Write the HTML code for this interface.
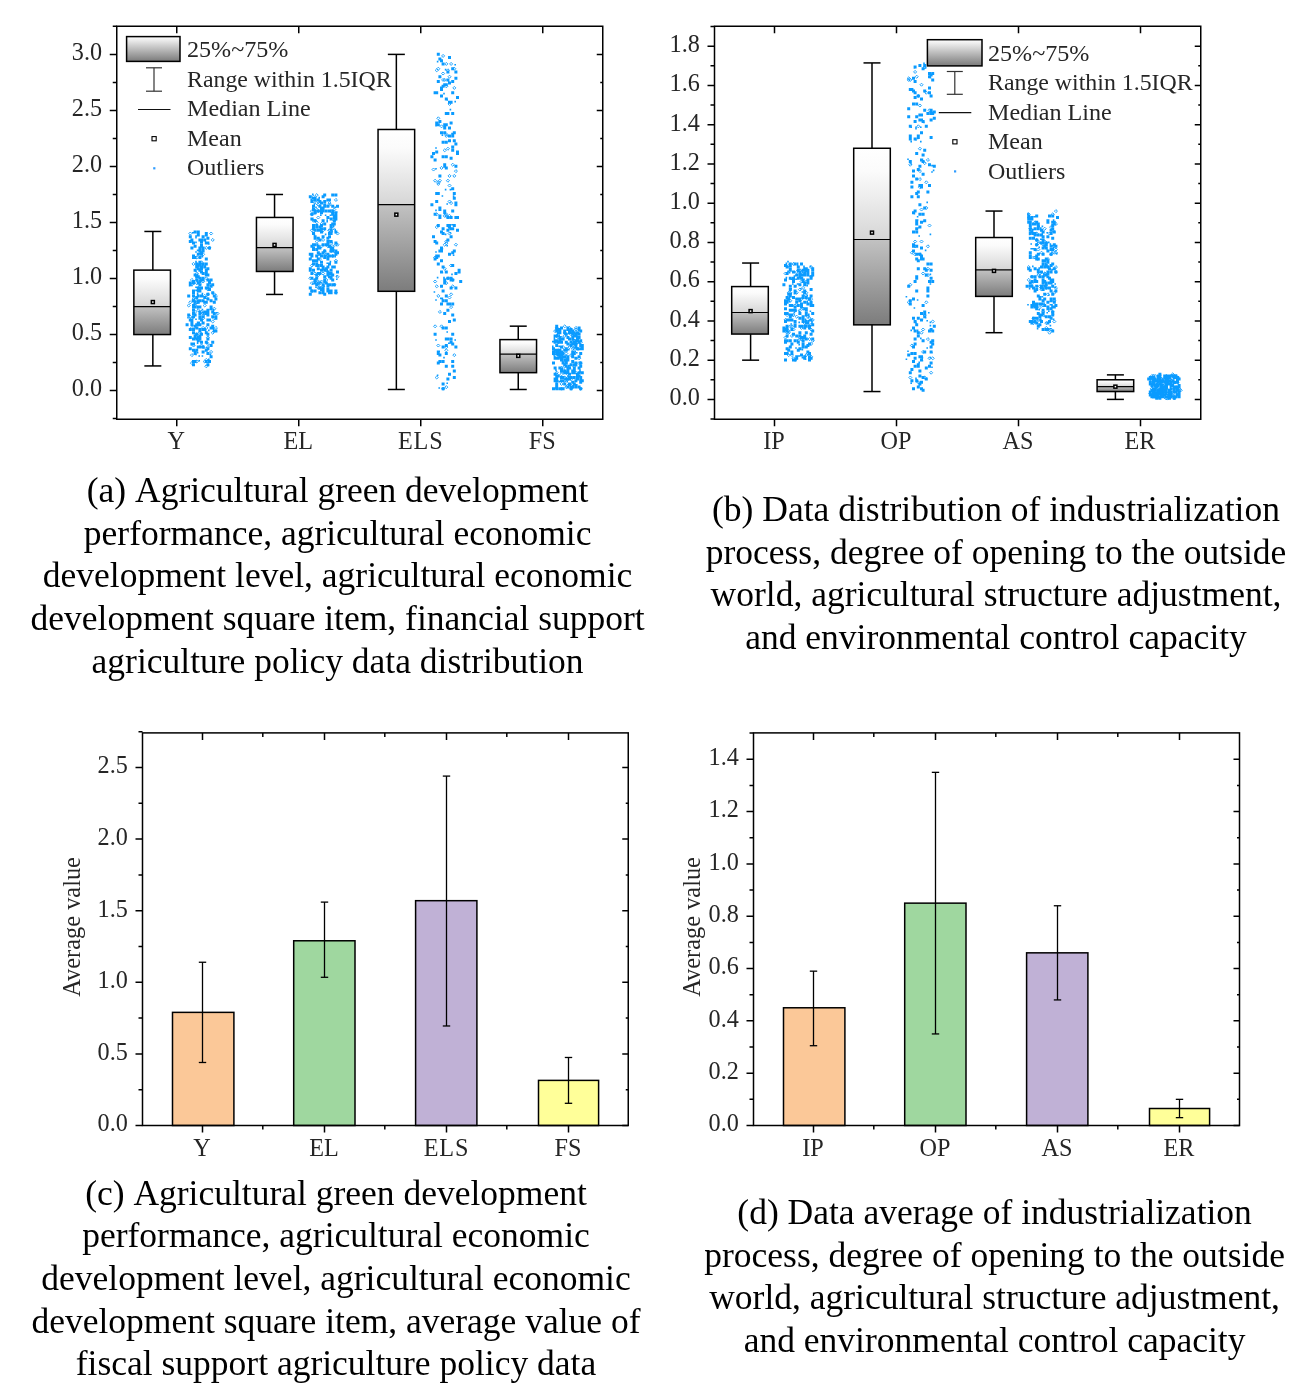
<!DOCTYPE html>
<html lang="en"><head><meta charset="utf-8"><title>Figure</title>
<style>html,body{margin:0;padding:0;background:#fff}body{width:1314px;height:1399px;overflow:hidden}svg{display:block}text{font-family:'Liberation Serif', 'DejaVu Serif', serif}</style></head><body>
<svg width="1314" height="1399" viewBox="0 0 1314 1399">
<defs><linearGradient id="g1" x1="0" y1="0" x2="0" y2="1"><stop offset="0" stop-color="#ffffff"/><stop offset="1" stop-color="#7a7a7a"/></linearGradient><linearGradient id="gu" x1="0" y1="0" x2="0" y2="1"><stop offset="0" stop-color="#ffffff"/><stop offset="0.25" stop-color="#fbfbfb"/><stop offset="1" stop-color="#d6d6d6"/></linearGradient><linearGradient id="gl" x1="0" y1="0" x2="0" y2="1"><stop offset="0" stop-color="#c2c2c2"/><stop offset="1" stop-color="#7c7c7c"/></linearGradient></defs>
<rect width="1314" height="1399" fill="#fff"/>
<g id="chart-a">
<g stroke="#000" stroke-width="1.5" fill="none">
<rect x="116.75" y="26.25" width="486" height="393"/>
<path d="M109.75 390.6H116.75M596.75 390.6H602.75M109.75 334.57H116.75M596.75 334.57H602.75M109.75 278.53H116.75M596.75 278.53H602.75M109.75 222.5H116.75M596.75 222.5H602.75M109.75 166.46H116.75M596.75 166.46H602.75M109.75 110.43H116.75M596.75 110.43H602.75M109.75 54.39H116.75M596.75 54.39H602.75M112.75 418.62H116.75M112.75 362.58H116.75M600.25 362.58H602.75M112.75 306.55H116.75M600.25 306.55H602.75M112.75 250.51H116.75M600.25 250.51H602.75M112.75 194.48H116.75M600.25 194.48H602.75M112.75 138.44H116.75M600.25 138.44H602.75M112.75 82.41H116.75M600.25 82.41H602.75M112.75 26.37H116.75M176.75 419.25V426.25M176.75 26.25V33.25M298.75 419.25V426.25M298.75 26.25V33.25M420.75 419.25V426.25M420.75 26.25V33.25M542.75 419.25V426.25M542.75 26.25V33.25"/>
</g>
<text x="102.05" y="396.4" font-size="24.2" text-anchor="end" fill="#262626">0.0</text>
<text x="102.05" y="340.37" font-size="24.2" text-anchor="end" fill="#262626">0.5</text>
<text x="102.05" y="284.33" font-size="24.2" text-anchor="end" fill="#262626">1.0</text>
<text x="102.05" y="228.3" font-size="24.2" text-anchor="end" fill="#262626">1.5</text>
<text x="102.05" y="172.26" font-size="24.2" text-anchor="end" fill="#262626">2.0</text>
<text x="102.05" y="116.23" font-size="24.2" text-anchor="end" fill="#262626">2.5</text>
<text x="102.05" y="60.19" font-size="24.2" text-anchor="end" fill="#262626">3.0</text>
<text x="176.25" y="448.8" font-size="24.2" text-anchor="middle" fill="#262626">Y</text>
<text x="298.25" y="448.8" font-size="24.2" text-anchor="middle" fill="#262626">EL</text>
<text x="420.75" y="448.8" font-size="24.2" text-anchor="middle" fill="#262626" letter-spacing="0.9">ELS</text>
<text x="542.25" y="448.8" font-size="24.2" text-anchor="middle" fill="#262626">FS</text>
<line x1="152.85" y1="231.46" x2="152.85" y2="270.12" stroke="#000" stroke-width="1.5"/>
<line x1="152.85" y1="334.57" x2="152.85" y2="365.94" stroke="#000" stroke-width="1.5"/>
<line x1="144.35" y1="231.46" x2="161.35" y2="231.46" stroke="#000" stroke-width="1.5"/>
<line x1="144.35" y1="365.94" x2="161.35" y2="365.94" stroke="#000" stroke-width="1.5"/>
<rect x="133.85" y="270.12" width="36.6" height="36.42" fill="url(#gu)"/>
<rect x="133.85" y="306.55" width="36.6" height="28.02" fill="url(#gl)"/>
<rect x="133.85" y="270.12" width="36.6" height="64.44" fill="none" stroke="#000" stroke-width="1.5"/>
<line x1="133.85" y1="306.55" x2="170.45" y2="306.55" stroke="#000" stroke-width="1.2"/>
<rect x="151.35" y="300.56" width="3" height="3" fill="#fff" stroke="#000" stroke-width="1.5"/>
<path d="M208 243.2h1.6v1.6h-1.6zM192 360h3v3h-3zM193.6 300.8h3v3h-3zM201.6 292.8h1.6v1.6h-1.6zM193.6 324.8h3v3h-3zM206.4 283.2h3v3h-3zM192 331.2h3v3h-3zM198.4 337.6h3v3h-3zM188.8 328h3v3h-3zM193.6 273.6h3v3h-3zM192 294.4h3v3h-3zM192 348.8h3v3h-3zM206.4 310.4h3v3h-3zM192 312h3v3h-3zM195.2 265.6h3v3h-3zM190.4 318.4h3v3h-3zM204.8 233.6h3v3h-3zM212.8 329.6h3v3h-3zM198.4 321.6h1.6v1.6h-1.6zM196.8 345.6h3v3h-3zM203.2 328h3v3h-3zM190.4 342.4h3v3h-3zM200 294.4h3v3h-3zM195.2 353.6h1.6v1.6h-1.6zM195.2 318.4h1.6v1.6h-1.6zM192 281.6h3v3h-3zM196.8 267.2h3v3h-3zM195.2 235.2h1.6v1.6h-1.6zM201.6 262.4h3v3h-3zM214.4 315.2h1.6v1.6h-1.6zM192 256h3v3h-3zM196.8 326.4h1.6v1.6h-1.6zM196.8 299.2h1.6v1.6h-1.6zM198.4 345.6h3v3h-3zM206.4 332.8h3v3h-3zM206.4 337.6h3v3h-3zM195.2 241.6h1.6v1.6h-1.6zM201.6 315.2h3v3h-3zM193.6 360h3v3h-3zM214.4 297.6h3v3h-3zM200 283.2h1.6v1.6h-1.6zM193.6 350.4h3v3h-3zM204.8 233.6h3v3h-3zM206.4 278.4h3v3h-3zM201.6 299.2h3v3h-3zM192 280h3v3h-3zM211.2 315.2h3v3h-3zM204.8 348.8h3v3h-3zM198.4 286.4h1.6v1.6h-1.6zM200 244.8h1.6v1.6h-1.6zM193.6 256h3v3h-3zM192 299.2h3v3h-3zM209.6 355.2h3v3h-3zM200 332.8h3v3h-3zM211.2 310.4h3v3h-3zM192 291.2h3v3h-3zM209.6 299.2h1.6v1.6h-1.6zM201.6 345.6h3v3h-3zM198.4 323.2h1.6v1.6h-1.6zM188.8 240h3v3h-3zM214.4 315.2h1.6v1.6h-1.6zM214.4 316.8h3v3h-3zM198.4 312h3v3h-3zM203.2 315.2h1.6v1.6h-1.6zM200 251.2h3v3h-3zM196.8 286.4h3v3h-3zM206.4 318.4h3v3h-3zM192 232h1.6v1.6h-1.6zM209.6 326.4h3v3h-3zM193.6 244.8h3v3h-3zM204.8 300.8h3v3h-3zM203.2 265.6h3v3h-3zM212.8 328h1.6v1.6h-1.6zM206.4 313.6h3v3h-3zM192 308.8h3v3h-3zM195.2 348.8h3v3h-3zM187.2 313.6h3v3h-3zM196.8 321.6h3v3h-3zM206.4 342.4h1.6v1.6h-1.6zM200 240h1.6v1.6h-1.6zM195.2 270.4h1.6v1.6h-1.6zM204.8 241.6h3v3h-3zM196.8 289.6h3v3h-3zM196.8 264h3v3h-3zM208 281.6h3v3h-3zM200 267.2h3v3h-3zM190.4 238.4h3v3h-3zM206.4 241.6h1.6v1.6h-1.6zM206.4 320h1.6v1.6h-1.6zM198.4 280h3v3h-3zM192 360h1.6v1.6h-1.6zM198.4 334.4h3v3h-3zM193.6 352h3v3h-3zM195.2 260.8h1.6v1.6h-1.6zM212.8 294.4h3v3h-3zM200 318.4h3v3h-3zM192 337.6h3v3h-3zM203.2 265.6h3v3h-3zM204.8 340.8h3v3h-3zM204.8 270.4h3v3h-3zM200 340.8h3v3h-3zM190.4 342.4h3v3h-3zM206.4 292.8h3v3h-3zM196.8 340.8h1.6v1.6h-1.6zM195.2 337.6h3v3h-3zM196.8 302.4h1.6v1.6h-1.6zM209.6 305.6h3v3h-3zM211.2 324.8h3v3h-3zM192 241.6h3v3h-3zM188.8 281.6h3v3h-3zM188.8 336h3v3h-3zM196.8 275.2h3v3h-3zM212.8 312h3v3h-3zM193.6 313.6h3v3h-3zM196.8 323.2h3v3h-3zM192 254.4h3v3h-3zM208 318.4h3v3h-3zM192 308.8h3v3h-3zM200 252.8h3v3h-3zM204.8 310.4h1.6v1.6h-1.6zM212.8 300.8h3v3h-3zM203.2 310.4h3v3h-3zM198.4 246.4h3v3h-3zM195.2 323.2h3v3h-3zM206.4 286.4h3v3h-3zM196.8 230.4h3v3h-3zM188.8 283.2h3v3h-3zM198.4 256h3v3h-3zM204.8 257.6h3v3h-3zM195.2 289.6h1.6v1.6h-1.6zM201.6 256h1.6v1.6h-1.6zM212.8 308.8h1.6v1.6h-1.6zM206.4 267.2h3v3h-3zM203.2 300.8h3v3h-3zM196.8 264h1.6v1.6h-1.6zM206.4 363.2h3v3h-3zM201.6 355.2h1.6v1.6h-1.6zM201.6 278.4h3v3h-3zM209.6 344h3v3h-3zM193.6 334.4h3v3h-3zM193.6 336h3v3h-3zM206.4 297.6h3v3h-3zM188.8 347.2h3v3h-3zM208 288h3v3h-3zM206.4 352h3v3h-3zM196.8 249.6h1.6v1.6h-1.6zM196.8 336h3v3h-3zM198.4 249.6h3v3h-3zM195.2 332.8h3v3h-3zM204.8 312h3v3h-3zM196.8 281.6h3v3h-3zM192 304h3v3h-3zM196.8 321.6h3v3h-3zM185.6 323.2h3v3h-3zM209.6 278.4h3v3h-3zM204.8 273.6h3v3h-3zM198.4 334.4h3v3h-3zM188.8 235.2h3v3h-3zM204.8 286.4h3v3h-3zM192 328h3v3h-3zM211.2 326.4h3v3h-3zM193.6 268.8h3v3h-3zM214.4 315.2h3v3h-3zM206.4 320h1.6v1.6h-1.6zM198.4 260.8h3v3h-3zM200 238.4h3v3h-3zM195.2 251.2h1.6v1.6h-1.6zM198.4 262.4h3v3h-3zM206.4 308.8h3v3h-3zM198.4 283.2h3v3h-3zM195.2 296h3v3h-3zM192 305.6h3v3h-3zM198.4 334.4h3v3h-3zM192 281.6h3v3h-3zM201.6 249.6h3v3h-3zM193.6 230.4h3v3h-3zM208 360h3v3h-3zM200 251.2h3v3h-3zM195.2 262.4h3v3h-3zM190.4 246.4h1.6v1.6h-1.6zM200 244.8h3v3h-3zM206.4 236.8h3v3h-3zM195.2 326.4h3v3h-3zM204.8 340.8h1.6v1.6h-1.6zM196.8 342.4h1.6v1.6h-1.6zM198.4 360h1.6v1.6h-1.6zM201.6 246.4h3v3h-3zM208 280h3v3h-3zM211.2 283.2h3v3h-3zM190.4 323.2h3v3h-3zM196.8 264h3v3h-3zM193.6 305.6h3v3h-3zM187.2 294.4h3v3h-3zM193.6 350.4h3v3h-3zM196.8 294.4h3v3h-3zM192 289.6h3v3h-3zM196.8 252.8h1.6v1.6h-1.6zM209.6 284.8h3v3h-3zM196.8 307.2h1.6v1.6h-1.6zM196.8 339.2h3v3h-3zM196.8 352h1.6v1.6h-1.6zM190.4 321.6h3v3h-3zM198.4 288h3v3h-3zM206.4 273.6h3v3h-3zM204.8 360h3v3h-3zM206.4 273.6h3v3h-3zM192 315.2h3v3h-3zM198.4 323.2h3v3h-3zM198.4 299.2h3v3h-3zM214.4 329.6h3v3h-3zM211.2 340.8h3v3h-3zM206.4 347.2h3v3h-3zM193.6 302.4h1.6v1.6h-1.6zM200 240h3v3h-3zM192 337.6h3v3h-3zM208 246.4h3v3h-3zM198.4 328h3v3h-3zM195.2 275.2h3v3h-3zM206.4 323.2h3v3h-3zM216 312h1.6v1.6h-1.6zM198.4 329.6h3v3h-3zM198.4 315.2h3v3h-3zM201.6 276.8h3v3h-3zM196.8 321.6h1.6v1.6h-1.6zM198.4 310.4h3v3h-3zM204.8 262.4h3v3h-3zM204.8 241.6h1.6v1.6h-1.6zM196.8 233.6h3v3h-3zM203.2 238.4h3v3h-3zM192 363.2h3v3h-3zM204.8 329.6h1.6v1.6h-1.6zM208 329.6h1.6v1.6h-1.6zM201.6 350.4h3v3h-3zM200 270.4h3v3h-3zM206.4 241.6h3v3h-3zM200 286.4h3v3h-3zM211.2 291.2h3v3h-3zM201.6 328h3v3h-3zM198.4 316.8h3v3h-3zM196.8 305.6h3v3h-3zM198.4 329.6h3v3h-3zM198.4 238.4h3v3h-3zM200 243.2h3v3h-3zM195.2 278.4h3v3h-3zM201.6 308.8h1.6v1.6h-1.6zM195.2 236.8h1.6v1.6h-1.6zM195.2 286.4h1.6v1.6h-1.6zM206.4 342.4h1.6v1.6h-1.6zM187.2 316.8h1.6v1.6h-1.6zM204.8 331.2h3v3h-3zM198.4 289.6h3v3h-3zM190.4 246.4h3v3h-3zM192 342.4h3v3h-3zM198.4 305.6h3v3h-3zM196.8 292.8h1.6v1.6h-1.6zM198.4 355.2h1.6v1.6h-1.6zM196.8 252.8h3v3h-3zM198.4 276.8h3v3h-3zM196.8 273.6h1.6v1.6h-1.6zM209.6 307.2h3v3h-3zM193.6 352h1.6v1.6h-1.6zM201.6 235.2h3v3h-3zM209.6 353.6h1.6v1.6h-1.6zM200 265.6h3v3h-3zM198.4 268.8h3v3h-3zM204.8 268.8h3v3h-3zM201.6 312h1.6v1.6h-1.6zM200 278.4h3v3h-3zM188.8 318.4h3v3h-3zM201.6 272h3v3h-3zM201.6 321.6h3v3h-3zM196.8 300.8h3v3h-3zM198.4 256h3v3h-3zM203.2 296h3v3h-3zM204.8 232h3v3h-3zM208 358.4h1.6v1.6h-1.6zM209.6 299.2h3v3h-3zM188.8 284.8h1.6v1.6h-1.6zM198.4 252.8h1.6v1.6h-1.6z" fill="#0a9bff"/>
<path d="M195.12 297.6l1.52 1.52l-1.52 1.52l-1.52-1.52zM199.92 262.4l1.52 1.52l-1.52 1.52l-1.52-1.52zM196.72 360l1.52 1.52l-1.52 1.52l-1.52-1.52zM214.32 307.2l1.52 1.52l-1.52 1.52l-1.52-1.52zM206.32 364.8l1.52 1.52l-1.52 1.52l-1.52-1.52zM217.52 312l1.52 1.52l-1.52 1.52l-1.52-1.52zM198.32 286.4l1.52 1.52l-1.52 1.52l-1.52-1.52zM191.92 361.6l1.52 1.52l-1.52 1.52l-1.52-1.52zM190.32 232l1.52 1.52l-1.52 1.52l-1.52-1.52zM206.32 326.4l1.52 1.52l-1.52 1.52l-1.52-1.52zM207.92 292.8l1.52 1.52l-1.52 1.52l-1.52-1.52zM214.32 316.8l1.52 1.52l-1.52 1.52l-1.52-1.52zM212.72 238.4l1.52 1.52l-1.52 1.52l-1.52-1.52zM199.92 265.6l1.52 1.52l-1.52 1.52l-1.52-1.52zM207.92 345.6l1.52 1.52l-1.52 1.52l-1.52-1.52zM211.12 232l1.52 1.52l-1.52 1.52l-1.52-1.52zM196.72 256l1.52 1.52l-1.52 1.52l-1.52-1.52zM204.72 304l1.52 1.52l-1.52 1.52l-1.52-1.52zM191.92 283.2l1.52 1.52l-1.52 1.52l-1.52-1.52zM196.72 332.8l1.52 1.52l-1.52 1.52l-1.52-1.52zM191.92 353.6l1.52 1.52l-1.52 1.52l-1.52-1.52zM203.12 280l1.52 1.52l-1.52 1.52l-1.52-1.52zM207.92 342.4l1.52 1.52l-1.52 1.52l-1.52-1.52zM196.72 300.8l1.52 1.52l-1.52 1.52l-1.52-1.52zM212.72 320l1.52 1.52l-1.52 1.52l-1.52-1.52zM206.32 358.4l1.52 1.52l-1.52 1.52l-1.52-1.52zM207.92 286.4l1.52 1.52l-1.52 1.52l-1.52-1.52zM215.92 294.4l1.52 1.52l-1.52 1.52l-1.52-1.52zM196.72 281.6l1.52 1.52l-1.52 1.52l-1.52-1.52zM204.72 294.4l1.52 1.52l-1.52 1.52l-1.52-1.52zM193.52 262.4l1.52 1.52l-1.52 1.52l-1.52-1.52zM207.92 288l1.52 1.52l-1.52 1.52l-1.52-1.52zM206.32 276.8l1.52 1.52l-1.52 1.52l-1.52-1.52zM193.52 299.2l1.52 1.52l-1.52 1.52l-1.52-1.52zM195.12 302.4l1.52 1.52l-1.52 1.52l-1.52-1.52zM195.12 310.4l1.52 1.52l-1.52 1.52l-1.52-1.52zM191.92 316.8l1.52 1.52l-1.52 1.52l-1.52-1.52zM212.72 331.2l1.52 1.52l-1.52 1.52l-1.52-1.52zM203.12 345.6l1.52 1.52l-1.52 1.52l-1.52-1.52zM211.12 350.4l1.52 1.52l-1.52 1.52l-1.52-1.52zM214.32 292.8l1.52 1.52l-1.52 1.52l-1.52-1.52zM206.32 347.2l1.52 1.52l-1.52 1.52l-1.52-1.52zM190.32 300.8l1.52 1.52l-1.52 1.52l-1.52-1.52zM203.12 252.8l1.52 1.52l-1.52 1.52l-1.52-1.52zM207.92 360l1.52 1.52l-1.52 1.52l-1.52-1.52zM198.32 308.8l1.52 1.52l-1.52 1.52l-1.52-1.52zM191.92 326.4l1.52 1.52l-1.52 1.52l-1.52-1.52zM204.72 312l1.52 1.52l-1.52 1.52l-1.52-1.52zM203.12 316.8l1.52 1.52l-1.52 1.52l-1.52-1.52zM215.92 326.4l1.52 1.52l-1.52 1.52l-1.52-1.52zM201.52 260.8l1.52 1.52l-1.52 1.52l-1.52-1.52zM206.32 246.4l1.52 1.52l-1.52 1.52l-1.52-1.52zM195.12 304l1.52 1.52l-1.52 1.52l-1.52-1.52zM196.72 272l1.52 1.52l-1.52 1.52l-1.52-1.52zM207.92 336l1.52 1.52l-1.52 1.52l-1.52-1.52zM190.32 315.2l1.52 1.52l-1.52 1.52l-1.52-1.52zM201.52 310.4l1.52 1.52l-1.52 1.52l-1.52-1.52zM206.32 296l1.52 1.52l-1.52 1.52l-1.52-1.52zM193.52 344l1.52 1.52l-1.52 1.52l-1.52-1.52zM209.52 246.4l1.52 1.52l-1.52 1.52l-1.52-1.52zM204.72 360l1.52 1.52l-1.52 1.52l-1.52-1.52zM193.52 360l1.52 1.52l-1.52 1.52l-1.52-1.52zM191.92 278.4l1.52 1.52l-1.52 1.52l-1.52-1.52zM199.92 331.2l1.52 1.52l-1.52 1.52l-1.52-1.52zM188.72 304l1.52 1.52l-1.52 1.52l-1.52-1.52zM201.52 344l1.52 1.52l-1.52 1.52l-1.52-1.52zM203.12 326.4l1.52 1.52l-1.52 1.52l-1.52-1.52zM204.72 312l1.52 1.52l-1.52 1.52l-1.52-1.52zM193.52 297.6l1.52 1.52l-1.52 1.52l-1.52-1.52zM203.12 312l1.52 1.52l-1.52 1.52l-1.52-1.52zM196.72 275.2l1.52 1.52l-1.52 1.52l-1.52-1.52z" fill="none" stroke="#0a9bff" stroke-width="0.9"/>
<line x1="274.55" y1="194.48" x2="274.55" y2="217.45" stroke="#000" stroke-width="1.5"/>
<line x1="274.55" y1="271.47" x2="274.55" y2="294.44" stroke="#000" stroke-width="1.5"/>
<line x1="266.05" y1="194.48" x2="283.05" y2="194.48" stroke="#000" stroke-width="1.5"/>
<line x1="266.05" y1="294.44" x2="283.05" y2="294.44" stroke="#000" stroke-width="1.5"/>
<rect x="256.45" y="217.45" width="36.6" height="30.26" fill="url(#gu)"/>
<rect x="256.45" y="247.71" width="36.6" height="23.76" fill="url(#gl)"/>
<rect x="256.45" y="217.45" width="36.6" height="54.02" fill="none" stroke="#000" stroke-width="1.5"/>
<line x1="256.45" y1="247.71" x2="293.05" y2="247.71" stroke="#000" stroke-width="1.2"/>
<rect x="273.05" y="243.41" width="3" height="3" fill="#fff" stroke="#000" stroke-width="1.5"/>
<path d="M312 248h3v3h-3zM318.4 200h3v3h-3zM312 204.8h3v3h-3zM328 254.4h3v3h-3zM320 209.6h3v3h-3zM318.4 252.8h3v3h-3zM318.4 291.2h3v3h-3zM312 262.4h3v3h-3zM329.6 228.8h3v3h-3zM321.6 195.2h3v3h-3zM320 214.4h1.6v1.6h-1.6zM313.6 203.2h1.6v1.6h-1.6zM318.4 196.8h1.6v1.6h-1.6zM313.6 198.4h3v3h-3zM331.2 193.6h3v3h-3zM310.4 217.6h3v3h-3zM316.8 243.2h1.6v1.6h-1.6zM315.2 276.8h3v3h-3zM328 244.8h3v3h-3zM326.4 220.8h1.6v1.6h-1.6zM320 206.4h3v3h-3zM318.4 272h3v3h-3zM308.8 267.2h1.6v1.6h-1.6zM318.4 246.4h3v3h-3zM334.4 228.8h1.6v1.6h-1.6zM312 246.4h3v3h-3zM315.2 262.4h3v3h-3zM312 225.6h3v3h-3zM329.6 224h1.6v1.6h-1.6zM308.8 286.4h3v3h-3zM326.4 236.8h3v3h-3zM334.4 217.6h3v3h-3zM313.6 228.8h3v3h-3zM313.6 243.2h3v3h-3zM315.2 254.4h3v3h-3zM313.6 278.4h3v3h-3zM326.4 268.8h1.6v1.6h-1.6zM328 289.6h3v3h-3zM321.6 265.6h3v3h-3zM315.2 224h3v3h-3zM329.6 217.6h3v3h-3zM312 283.2h1.6v1.6h-1.6zM329.6 276.8h3v3h-3zM320 254.4h3v3h-3zM329.6 232h3v3h-3zM334.4 212.8h3v3h-3zM316.8 228.8h3v3h-3zM308.8 195.2h3v3h-3zM316.8 209.6h3v3h-3zM331.2 211.2h3v3h-3zM323.2 203.2h3v3h-3zM331.2 246.4h3v3h-3zM326.4 256h3v3h-3zM328 235.2h3v3h-3zM331.2 284.8h1.6v1.6h-1.6zM320 288h3v3h-3zM331.2 254.4h3v3h-3zM310.4 200h3v3h-3zM312 193.6h1.6v1.6h-1.6zM334.4 289.6h3v3h-3zM329.6 240h3v3h-3zM315.2 248h3v3h-3zM334.4 291.2h3v3h-3zM308.8 252.8h3v3h-3zM331.2 241.6h1.6v1.6h-1.6zM326.4 241.6h3v3h-3zM318.4 228.8h3v3h-3zM334.4 206.4h1.6v1.6h-1.6zM312 217.6h1.6v1.6h-1.6zM323.2 256h3v3h-3zM316.8 251.2h3v3h-3zM323.2 292.8h3v3h-3zM313.6 209.6h3v3h-3zM334.4 230.4h3v3h-3zM318.4 225.6h3v3h-3zM326.4 257.6h3v3h-3zM334.4 217.6h1.6v1.6h-1.6zM326.4 216h1.6v1.6h-1.6zM334.4 251.2h3v3h-3zM321.6 286.4h3v3h-3zM315.2 264h3v3h-3zM326.4 265.6h3v3h-3zM316.8 264h3v3h-3zM331.2 283.2h3v3h-3zM320 224h3v3h-3zM316.8 198.4h3v3h-3zM318.4 204.8h3v3h-3zM318.4 286.4h3v3h-3zM323.2 284.8h1.6v1.6h-1.6zM332.8 219.2h3v3h-3zM308.8 257.6h3v3h-3zM331.2 248h3v3h-3zM331.2 283.2h3v3h-3zM329.6 214.4h1.6v1.6h-1.6zM316.8 257.6h3v3h-3zM336 204.8h3v3h-3zM334.4 252.8h3v3h-3zM326.4 216h3v3h-3zM329.6 268.8h3v3h-3zM324.8 209.6h3v3h-3zM320 201.6h3v3h-3zM332.8 283.2h3v3h-3zM313.6 259.2h3v3h-3zM313.6 289.6h3v3h-3zM336 275.2h1.6v1.6h-1.6zM316.8 236.8h3v3h-3zM326.4 289.6h3v3h-3zM310.4 212.8h3v3h-3zM334.4 241.6h3v3h-3zM329.6 260.8h1.6v1.6h-1.6zM328 291.2h3v3h-3zM321.6 209.6h3v3h-3zM313.6 212.8h1.6v1.6h-1.6zM320 260.8h3v3h-3zM326.4 284.8h3v3h-3zM316.8 246.4h3v3h-3zM328 209.6h3v3h-3zM323.2 254.4h3v3h-3zM334.4 291.2h3v3h-3zM313.6 219.2h3v3h-3zM326.4 288h3v3h-3zM312 196.8h3v3h-3zM313.6 236.8h3v3h-3zM328 283.2h3v3h-3zM310.4 276.8h3v3h-3zM332.8 222.4h3v3h-3zM312 219.2h1.6v1.6h-1.6zM321.6 219.2h3v3h-3zM334.4 260.8h3v3h-3zM328 262.4h3v3h-3zM320 281.6h1.6v1.6h-1.6zM316.8 267.2h3v3h-3zM332.8 265.6h3v3h-3zM328 232h3v3h-3zM312 206.4h1.6v1.6h-1.6zM321.6 291.2h3v3h-3zM312 224h3v3h-3zM315.2 273.6h3v3h-3zM329.6 291.2h3v3h-3zM310.4 272h3v3h-3zM310.4 289.6h3v3h-3zM321.6 267.2h3v3h-3zM320 211.2h3v3h-3zM312 208h3v3h-3zM328 240h1.6v1.6h-1.6zM320 209.6h3v3h-3zM336 278.4h1.6v1.6h-1.6zM326.4 270.4h3v3h-3zM323.2 278.4h3v3h-3zM334.4 256h1.6v1.6h-1.6zM315.2 225.6h3v3h-3zM310.4 244.8h3v3h-3zM313.6 211.2h3v3h-3zM313.6 281.6h3v3h-3zM313.6 233.6h1.6v1.6h-1.6zM328 272h3v3h-3zM320 238.4h1.6v1.6h-1.6zM326.4 262.4h1.6v1.6h-1.6zM323.2 280h3v3h-3zM326.4 204.8h3v3h-3zM318.4 238.4h3v3h-3zM310.4 198.4h1.6v1.6h-1.6zM323.2 256h1.6v1.6h-1.6zM334.4 214.4h3v3h-3zM323.2 268.8h3v3h-3zM329.6 249.6h3v3h-3zM331.2 204.8h3v3h-3zM315.2 259.2h3v3h-3zM334.4 241.6h3v3h-3zM323.2 193.6h3v3h-3zM316.8 244.8h3v3h-3zM334.4 193.6h3v3h-3zM326.4 252.8h3v3h-3zM324.8 268.8h1.6v1.6h-1.6zM329.6 232h3v3h-3zM312 268.8h3v3h-3zM320 206.4h3v3h-3zM315.2 206.4h1.6v1.6h-1.6zM324.8 267.2h3v3h-3zM326.4 219.2h1.6v1.6h-1.6zM332.8 225.6h1.6v1.6h-1.6zM331.2 209.6h3v3h-3zM329.6 275.2h3v3h-3zM324.8 254.4h1.6v1.6h-1.6zM312 243.2h3v3h-3zM329.6 272h3v3h-3zM328 275.2h3v3h-3zM321.6 251.2h3v3h-3zM324.8 281.6h3v3h-3zM326.4 240h3v3h-3zM312 227.2h1.6v1.6h-1.6zM310.4 254.4h3v3h-3zM320 264h3v3h-3zM332.8 216h3v3h-3zM320 230.4h3v3h-3zM324.8 214.4h1.6v1.6h-1.6zM331.2 249.6h3v3h-3zM312 246.4h3v3h-3zM313.6 235.2h3v3h-3zM334.4 249.6h3v3h-3zM320 268.8h3v3h-3zM313.6 196.8h3v3h-3zM331.2 273.6h1.6v1.6h-1.6zM336 270.4h3v3h-3zM321.6 235.2h3v3h-3zM326.4 243.2h3v3h-3zM320 227.2h3v3h-3zM323.2 275.2h3v3h-3zM323.2 249.6h3v3h-3zM316.8 254.4h1.6v1.6h-1.6zM336 251.2h3v3h-3zM324.8 233.6h1.6v1.6h-1.6zM321.6 283.2h3v3h-3zM324.8 243.2h3v3h-3zM320 264h1.6v1.6h-1.6zM323.2 254.4h1.6v1.6h-1.6zM323.2 222.4h3v3h-3zM331.2 222.4h3v3h-3zM323.2 227.2h3v3h-3zM329.6 291.2h3v3h-3zM308.8 267.2h3v3h-3zM310.4 252.8h3v3h-3zM326.4 198.4h3v3h-3zM318.4 272h3v3h-3zM331.2 278.4h3v3h-3zM329.6 289.6h3v3h-3zM312 259.2h3v3h-3zM315.2 283.2h3v3h-3zM323.2 204.8h3v3h-3zM329.6 225.6h3v3h-3zM332.8 214.4h3v3h-3zM312 227.2h3v3h-3zM321.6 243.2h3v3h-3zM321.6 232h1.6v1.6h-1.6zM336 211.2h1.6v1.6h-1.6zM312 224h3v3h-3zM326.4 273.6h3v3h-3zM331.2 265.6h3v3h-3zM334.4 254.4h1.6v1.6h-1.6zM331.2 212.8h3v3h-3zM320 208h1.6v1.6h-1.6zM334.4 211.2h3v3h-3zM312 232h3v3h-3zM312 224h1.6v1.6h-1.6zM331.2 230.4h1.6v1.6h-1.6zM321.6 236.8h1.6v1.6h-1.6zM308.8 268.8h3v3h-3zM323.2 292.8h3v3h-3zM316.8 272h3v3h-3zM323.2 200h3v3h-3zM321.6 289.6h3v3h-3zM326.4 283.2h1.6v1.6h-1.6zM315.2 286.4h1.6v1.6h-1.6zM318.4 286.4h1.6v1.6h-1.6zM331.2 273.6h3v3h-3zM321.6 206.4h3v3h-3zM308.8 292.8h3v3h-3zM329.6 246.4h3v3h-3zM334.4 219.2h1.6v1.6h-1.6zM320 260.8h1.6v1.6h-1.6zM328 198.4h3v3h-3zM316.8 248h1.6v1.6h-1.6z" fill="#0a9bff"/>
<path d="M311.92 209.6l1.52 1.52l-1.52 1.52l-1.52-1.52zM310.32 276.8l1.52 1.52l-1.52 1.52l-1.52-1.52zM337.52 243.2l1.52 1.52l-1.52 1.52l-1.52-1.52zM329.52 228.8l1.52 1.52l-1.52 1.52l-1.52-1.52zM316.72 240l1.52 1.52l-1.52 1.52l-1.52-1.52zM318.32 281.6l1.52 1.52l-1.52 1.52l-1.52-1.52zM334.32 249.6l1.52 1.52l-1.52 1.52l-1.52-1.52zM326.32 268.8l1.52 1.52l-1.52 1.52l-1.52-1.52zM334.32 283.2l1.52 1.52l-1.52 1.52l-1.52-1.52zM319.92 286.4l1.52 1.52l-1.52 1.52l-1.52-1.52zM335.92 198.4l1.52 1.52l-1.52 1.52l-1.52-1.52zM315.12 280l1.52 1.52l-1.52 1.52l-1.52-1.52zM332.72 227.2l1.52 1.52l-1.52 1.52l-1.52-1.52zM318.32 209.6l1.52 1.52l-1.52 1.52l-1.52-1.52zM319.92 281.6l1.52 1.52l-1.52 1.52l-1.52-1.52zM334.32 208l1.52 1.52l-1.52 1.52l-1.52-1.52zM332.72 254.4l1.52 1.52l-1.52 1.52l-1.52-1.52zM311.92 228.8l1.52 1.52l-1.52 1.52l-1.52-1.52zM332.72 244.8l1.52 1.52l-1.52 1.52l-1.52-1.52zM329.52 244.8l1.52 1.52l-1.52 1.52l-1.52-1.52zM332.72 211.2l1.52 1.52l-1.52 1.52l-1.52-1.52zM331.12 249.6l1.52 1.52l-1.52 1.52l-1.52-1.52zM324.72 249.6l1.52 1.52l-1.52 1.52l-1.52-1.52zM318.32 286.4l1.52 1.52l-1.52 1.52l-1.52-1.52zM311.92 281.6l1.52 1.52l-1.52 1.52l-1.52-1.52zM316.72 220.8l1.52 1.52l-1.52 1.52l-1.52-1.52zM321.52 222.4l1.52 1.52l-1.52 1.52l-1.52-1.52zM316.72 208l1.52 1.52l-1.52 1.52l-1.52-1.52zM331.12 209.6l1.52 1.52l-1.52 1.52l-1.52-1.52zM329.52 203.2l1.52 1.52l-1.52 1.52l-1.52-1.52zM316.72 201.6l1.52 1.52l-1.52 1.52l-1.52-1.52zM313.52 219.2l1.52 1.52l-1.52 1.52l-1.52-1.52zM335.92 291.2l1.52 1.52l-1.52 1.52l-1.52-1.52zM335.92 243.2l1.52 1.52l-1.52 1.52l-1.52-1.52zM313.52 195.2l1.52 1.52l-1.52 1.52l-1.52-1.52zM311.92 212.8l1.52 1.52l-1.52 1.52l-1.52-1.52zM331.12 241.6l1.52 1.52l-1.52 1.52l-1.52-1.52zM337.52 275.2l1.52 1.52l-1.52 1.52l-1.52-1.52zM315.12 278.4l1.52 1.52l-1.52 1.52l-1.52-1.52zM331.12 230.4l1.52 1.52l-1.52 1.52l-1.52-1.52zM318.32 203.2l1.52 1.52l-1.52 1.52l-1.52-1.52zM326.32 278.4l1.52 1.52l-1.52 1.52l-1.52-1.52zM318.32 281.6l1.52 1.52l-1.52 1.52l-1.52-1.52zM315.12 219.2l1.52 1.52l-1.52 1.52l-1.52-1.52zM318.32 273.6l1.52 1.52l-1.52 1.52l-1.52-1.52zM315.12 272l1.52 1.52l-1.52 1.52l-1.52-1.52zM311.92 289.6l1.52 1.52l-1.52 1.52l-1.52-1.52zM318.32 216l1.52 1.52l-1.52 1.52l-1.52-1.52zM321.52 280l1.52 1.52l-1.52 1.52l-1.52-1.52zM329.52 201.6l1.52 1.52l-1.52 1.52l-1.52-1.52zM335.92 259.2l1.52 1.52l-1.52 1.52l-1.52-1.52zM321.52 244.8l1.52 1.52l-1.52 1.52l-1.52-1.52zM327.92 244.8l1.52 1.52l-1.52 1.52l-1.52-1.52zM337.52 232l1.52 1.52l-1.52 1.52l-1.52-1.52zM318.32 283.2l1.52 1.52l-1.52 1.52l-1.52-1.52zM326.32 252.8l1.52 1.52l-1.52 1.52l-1.52-1.52zM323.12 284.8l1.52 1.52l-1.52 1.52l-1.52-1.52zM329.52 228.8l1.52 1.52l-1.52 1.52l-1.52-1.52zM318.32 280l1.52 1.52l-1.52 1.52l-1.52-1.52zM323.12 272l1.52 1.52l-1.52 1.52l-1.52-1.52zM313.52 200l1.52 1.52l-1.52 1.52l-1.52-1.52zM323.12 238.4l1.52 1.52l-1.52 1.52l-1.52-1.52zM311.92 264l1.52 1.52l-1.52 1.52l-1.52-1.52zM334.32 219.2l1.52 1.52l-1.52 1.52l-1.52-1.52zM323.12 228.8l1.52 1.52l-1.52 1.52l-1.52-1.52zM316.72 193.6l1.52 1.52l-1.52 1.52l-1.52-1.52zM315.12 211.2l1.52 1.52l-1.52 1.52l-1.52-1.52zM319.92 257.6l1.52 1.52l-1.52 1.52l-1.52-1.52z" fill="none" stroke="#0a9bff" stroke-width="0.9"/>
<line x1="396.35" y1="54.39" x2="396.35" y2="129.48" stroke="#000" stroke-width="1.5"/>
<line x1="396.35" y1="291.31" x2="396.35" y2="389.48" stroke="#000" stroke-width="1.5"/>
<line x1="387.85" y1="54.39" x2="404.85" y2="54.39" stroke="#000" stroke-width="1.5"/>
<line x1="387.85" y1="389.48" x2="404.85" y2="389.48" stroke="#000" stroke-width="1.5"/>
<rect x="378.05" y="129.48" width="36.6" height="75.09" fill="url(#gu)"/>
<rect x="378.05" y="204.56" width="36.6" height="86.74" fill="url(#gl)"/>
<rect x="378.05" y="129.48" width="36.6" height="161.83" fill="none" stroke="#000" stroke-width="1.5"/>
<line x1="378.05" y1="204.56" x2="414.65" y2="204.56" stroke="#000" stroke-width="1.2"/>
<rect x="394.85" y="213.15" width="3" height="3" fill="#fff" stroke="#000" stroke-width="1.5"/>
<path d="M440 230.4h3v3h-3zM433.6 332.8h3v3h-3zM446.4 216h3v3h-3zM438.4 174.4h3v3h-3zM446.4 382.4h1.6v1.6h-1.6zM444.8 97.6h3v3h-3zM438.4 120h3v3h-3zM435.2 256h3v3h-3zM440 131.2h3v3h-3zM454.4 76.8h3v3h-3zM436.8 254.4h3v3h-3zM441.6 248h1.6v1.6h-1.6zM435.2 168h1.6v1.6h-1.6zM435.2 91.2h1.6v1.6h-1.6zM433.6 240h3v3h-3zM440 94.4h3v3h-3zM448 225.6h3v3h-3zM454.4 64h1.6v1.6h-1.6zM452.8 139.2h3v3h-3zM438.4 249.6h3v3h-3zM435.2 121.6h3v3h-3zM448 81.6h3v3h-3zM443.2 312h3v3h-3zM443.2 164.8h3v3h-3zM451.2 342.4h3v3h-3zM430.4 155.2h3v3h-3zM432 235.2h3v3h-3zM444.8 344h3v3h-3zM438.4 353.6h3v3h-3zM432 152h3v3h-3zM443.2 387.2h1.6v1.6h-1.6zM435.2 150.4h3v3h-3zM438.4 387.2h1.6v1.6h-1.6zM430.4 203.2h3v3h-3zM454.4 339.2h1.6v1.6h-1.6zM441.6 232h3v3h-3zM446.4 112h3v3h-3zM457.6 270.4h3v3h-3zM451.2 342.4h3v3h-3zM454.4 70.4h3v3h-3zM438.4 216h3v3h-3zM448 56h3v3h-3zM448 126.4h3v3h-3zM446.4 331.2h1.6v1.6h-1.6zM435.2 251.2h1.6v1.6h-1.6zM448 252.8h3v3h-3zM452.8 224h3v3h-3zM444.8 326.4h3v3h-3zM451.2 364.8h3v3h-3zM451.2 278.4h3v3h-3zM446.4 203.2h1.6v1.6h-1.6zM436.8 80h3v3h-3zM456 152h3v3h-3zM435.2 91.2h3v3h-3zM435.2 124.8h1.6v1.6h-1.6zM451.2 273.6h1.6v1.6h-1.6zM435.2 339.2h1.6v1.6h-1.6zM451.2 227.2h3v3h-3zM441.6 289.6h3v3h-3zM435.2 147.2h1.6v1.6h-1.6zM452.8 376h3v3h-3zM441.6 155.2h3v3h-3zM441.6 289.6h1.6v1.6h-1.6zM443.2 131.2h3v3h-3zM438.4 350.4h1.6v1.6h-1.6zM441.6 326.4h3v3h-3zM436.8 52.8h3v3h-3zM443.2 356.8h1.6v1.6h-1.6zM448 302.4h3v3h-3zM448 320h3v3h-3zM446.4 238.4h3v3h-3zM440 59.2h3v3h-3zM451.2 251.2h3v3h-3zM449.6 232h1.6v1.6h-1.6zM444.8 352h3v3h-3zM451.2 67.2h3v3h-3zM449.6 337.6h3v3h-3zM441.6 299.2h3v3h-3zM449.6 286.4h3v3h-3zM452.8 249.6h3v3h-3zM451.2 224h1.6v1.6h-1.6zM444.8 294.4h3v3h-3zM449.6 276.8h3v3h-3zM451.2 209.6h3v3h-3zM446.4 228.8h3v3h-3zM448 100.8h3v3h-3zM446.4 99.2h1.6v1.6h-1.6zM433.6 291.2h1.6v1.6h-1.6zM446.4 224h3v3h-3zM449.6 156.8h3v3h-3zM444.8 140.8h3v3h-3zM451.2 145.6h3v3h-3zM440 248h3v3h-3zM454.4 201.6h3v3h-3zM451.2 112h3v3h-3zM454.4 345.6h3v3h-3zM446.4 244.8h1.6v1.6h-1.6zM435.2 192h3v3h-3zM443.2 211.2h3v3h-3zM433.6 257.6h3v3h-3zM459.2 280h3v3h-3zM449.6 108.8h1.6v1.6h-1.6zM451.2 302.4h3v3h-3zM436.8 374.4h1.6v1.6h-1.6zM451.2 264h3v3h-3zM438.4 75.2h3v3h-3zM441.6 345.6h3v3h-3zM440 88h3v3h-3zM443.2 83.2h3v3h-3zM443.2 209.6h3v3h-3zM436.8 192h1.6v1.6h-1.6zM440 259.2h3v3h-3zM452.8 192h3v3h-3zM449.6 340.8h3v3h-3zM444.8 337.6h3v3h-3zM449.6 121.6h3v3h-3zM435.2 200h3v3h-3zM441.6 140.8h3v3h-3zM448 139.2h3v3h-3zM444.8 83.2h3v3h-3zM436.8 192h3v3h-3zM451.2 132.8h3v3h-3zM435.2 192h1.6v1.6h-1.6zM443.2 163.2h3v3h-3zM441.6 195.2h1.6v1.6h-1.6zM454.4 203.2h3v3h-3zM440 297.6h1.6v1.6h-1.6zM451.2 332.8h3v3h-3zM436.8 192h3v3h-3zM436.8 361.6h3v3h-3zM452.8 195.2h1.6v1.6h-1.6zM456 150.4h3v3h-3zM444.8 270.4h3v3h-3zM446.4 78.4h3v3h-3zM435.2 123.2h3v3h-3zM441.6 360h3v3h-3zM441.6 299.2h1.6v1.6h-1.6zM454.4 216h3v3h-3zM449.6 100.8h3v3h-3zM456 228.8h3v3h-3zM441.6 265.6h3v3h-3zM435.2 241.6h3v3h-3zM435.2 209.6h1.6v1.6h-1.6zM454.4 286.4h3v3h-3zM457.6 268.8h3v3h-3zM444.8 364.8h3v3h-3zM441.6 227.2h3v3h-3zM438.4 208h3v3h-3zM446.4 337.6h3v3h-3zM444.8 166.4h3v3h-3zM436.8 224h3v3h-3zM440 302.4h3v3h-3zM440 249.6h3v3h-3zM454.4 72h1.6v1.6h-1.6zM443.2 278.4h3v3h-3zM444.8 68.8h1.6v1.6h-1.6zM448 134.4h3v3h-3zM443.2 276.8h1.6v1.6h-1.6zM448 342.4h1.6v1.6h-1.6zM440 270.4h3v3h-3zM440 270.4h3v3h-3zM452.8 131.2h3v3h-3zM438.4 206.4h3v3h-3zM441.6 382.4h3v3h-3zM444.8 124.8h1.6v1.6h-1.6zM444.8 112h3v3h-3zM433.6 158.4h3v3h-3zM436.8 350.4h3v3h-3zM454.4 100.8h1.6v1.6h-1.6zM443.2 124.8h3v3h-3zM452.8 369.6h3v3h-3zM441.6 84.8h3v3h-3zM448 372.8h3v3h-3zM451.2 360h3v3h-3zM449.6 278.4h3v3h-3zM446.4 70.4h3v3h-3zM440 246.4h3v3h-3zM438.4 214.4h3v3h-3zM435.2 299.2h1.6v1.6h-1.6zM452.8 318.4h3v3h-3zM436.8 123.2h3v3h-3zM449.6 235.2h3v3h-3zM456 216h3v3h-3zM433.6 91.2h3v3h-3zM446.4 377.6h3v3h-3zM448 224h3v3h-3zM451.2 313.6h3v3h-3zM438.4 360h3v3h-3zM454.4 272h3v3h-3zM441.6 387.2h3v3h-3zM440 248h3v3h-3zM441.6 297.6h1.6v1.6h-1.6zM438.4 57.6h3v3h-3zM446.4 302.4h3v3h-3zM444.8 123.2h1.6v1.6h-1.6zM441.6 62.4h3v3h-3zM441.6 272h1.6v1.6h-1.6zM440 284.8h3v3h-3zM435.2 254.4h3v3h-3zM444.8 299.2h3v3h-3zM444.8 123.2h3v3h-3zM444.8 233.6h1.6v1.6h-1.6zM444.8 155.2h3v3h-3zM440 86.4h3v3h-3zM451.2 148.8h3v3h-3zM436.8 352h3v3h-3zM443.2 281.6h3v3h-3zM454.4 164.8h3v3h-3zM435.2 168h1.6v1.6h-1.6zM449.6 188.8h1.6v1.6h-1.6zM452.8 254.4h1.6v1.6h-1.6zM433.6 212.8h3v3h-3zM444.8 188.8h1.6v1.6h-1.6zM449.6 227.2h3v3h-3zM443.2 123.2h1.6v1.6h-1.6zM446.4 308.8h3v3h-3zM443.2 92.8h1.6v1.6h-1.6zM451.2 80h3v3h-3zM454.4 142.4h3v3h-3zM436.8 262.4h3v3h-3zM443.2 126.4h3v3h-3zM449.6 216h3v3h-3zM436.8 276.8h1.6v1.6h-1.6zM441.6 134.4h1.6v1.6h-1.6zM451.2 134.4h3v3h-3zM456 96h3v3h-3zM436.8 60.8h1.6v1.6h-1.6zM451.2 91.2h3v3h-3zM446.4 276.8h3v3h-3zM452.8 196.8h3v3h-3zM451.2 187.2h3v3h-3z" fill="#0a9bff"/>
<path d="M454.32 67.2l1.52 1.52l-1.52 1.52l-1.52-1.52zM444.72 267.2l1.52 1.52l-1.52 1.52l-1.52-1.52zM435.12 179.2l1.52 1.52l-1.52 1.52l-1.52-1.52zM433.52 168l1.52 1.52l-1.52 1.52l-1.52-1.52zM443.12 78.4l1.52 1.52l-1.52 1.52l-1.52-1.52zM443.12 54.4l1.52 1.52l-1.52 1.52l-1.52-1.52zM454.32 174.4l1.52 1.52l-1.52 1.52l-1.52-1.52zM438.32 67.2l1.52 1.52l-1.52 1.52l-1.52-1.52zM447.92 276.8l1.52 1.52l-1.52 1.52l-1.52-1.52zM449.52 200l1.52 1.52l-1.52 1.52l-1.52-1.52zM441.52 324.8l1.52 1.52l-1.52 1.52l-1.52-1.52zM449.52 296l1.52 1.52l-1.52 1.52l-1.52-1.52zM444.72 214.4l1.52 1.52l-1.52 1.52l-1.52-1.52zM438.32 116.8l1.52 1.52l-1.52 1.52l-1.52-1.52zM446.32 348.8l1.52 1.52l-1.52 1.52l-1.52-1.52zM444.72 78.4l1.52 1.52l-1.52 1.52l-1.52-1.52zM447.92 68.8l1.52 1.52l-1.52 1.52l-1.52-1.52zM447.92 147.2l1.52 1.52l-1.52 1.52l-1.52-1.52zM444.72 148.8l1.52 1.52l-1.52 1.52l-1.52-1.52zM446.32 134.4l1.52 1.52l-1.52 1.52l-1.52-1.52zM444.72 243.2l1.52 1.52l-1.52 1.52l-1.52-1.52zM446.32 132.8l1.52 1.52l-1.52 1.52l-1.52-1.52zM438.32 344l1.52 1.52l-1.52 1.52l-1.52-1.52zM451.12 62.4l1.52 1.52l-1.52 1.52l-1.52-1.52zM451.12 201.6l1.52 1.52l-1.52 1.52l-1.52-1.52zM436.72 284.8l1.52 1.52l-1.52 1.52l-1.52-1.52zM449.52 174.4l1.52 1.52l-1.52 1.52l-1.52-1.52zM451.12 292.8l1.52 1.52l-1.52 1.52l-1.52-1.52zM441.52 166.4l1.52 1.52l-1.52 1.52l-1.52-1.52zM438.32 182.4l1.52 1.52l-1.52 1.52l-1.52-1.52zM439.92 310.4l1.52 1.52l-1.52 1.52l-1.52-1.52zM436.72 225.6l1.52 1.52l-1.52 1.52l-1.52-1.52zM443.12 72l1.52 1.52l-1.52 1.52l-1.52-1.52zM449.52 75.2l1.52 1.52l-1.52 1.52l-1.52-1.52zM449.52 225.6l1.52 1.52l-1.52 1.52l-1.52-1.52zM436.72 212.8l1.52 1.52l-1.52 1.52l-1.52-1.52zM439.92 179.2l1.52 1.52l-1.52 1.52l-1.52-1.52zM449.52 102.4l1.52 1.52l-1.52 1.52l-1.52-1.52zM446.32 214.4l1.52 1.52l-1.52 1.52l-1.52-1.52zM451.12 305.6l1.52 1.52l-1.52 1.52l-1.52-1.52zM436.72 376l1.52 1.52l-1.52 1.52l-1.52-1.52zM454.32 86.4l1.52 1.52l-1.52 1.52l-1.52-1.52zM452.72 284.8l1.52 1.52l-1.52 1.52l-1.52-1.52zM449.52 232l1.52 1.52l-1.52 1.52l-1.52-1.52zM449.52 184l1.52 1.52l-1.52 1.52l-1.52-1.52zM455.92 243.2l1.52 1.52l-1.52 1.52l-1.52-1.52zM446.32 84.8l1.52 1.52l-1.52 1.52l-1.52-1.52zM446.32 240l1.52 1.52l-1.52 1.52l-1.52-1.52zM435.12 256l1.52 1.52l-1.52 1.52l-1.52-1.52zM446.32 62.4l1.52 1.52l-1.52 1.52l-1.52-1.52zM443.12 387.2l1.52 1.52l-1.52 1.52l-1.52-1.52zM446.32 385.6l1.52 1.52l-1.52 1.52l-1.52-1.52zM455.92 169.6l1.52 1.52l-1.52 1.52l-1.52-1.52zM438.32 180.8l1.52 1.52l-1.52 1.52l-1.52-1.52zM446.32 212.8l1.52 1.52l-1.52 1.52l-1.52-1.52zM441.52 124.8l1.52 1.52l-1.52 1.52l-1.52-1.52zM435.12 324.8l1.52 1.52l-1.52 1.52l-1.52-1.52zM446.32 241.6l1.52 1.52l-1.52 1.52l-1.52-1.52zM438.32 294.4l1.52 1.52l-1.52 1.52l-1.52-1.52zM447.92 179.2l1.52 1.52l-1.52 1.52l-1.52-1.52zM451.12 264l1.52 1.52l-1.52 1.52l-1.52-1.52zM452.72 163.2l1.52 1.52l-1.52 1.52l-1.52-1.52zM446.32 345.6l1.52 1.52l-1.52 1.52l-1.52-1.52zM436.72 68.8l1.52 1.52l-1.52 1.52l-1.52-1.52zM435.12 280l1.52 1.52l-1.52 1.52l-1.52-1.52zM454.32 353.6l1.52 1.52l-1.52 1.52l-1.52-1.52zM446.32 281.6l1.52 1.52l-1.52 1.52l-1.52-1.52zM449.52 214.4l1.52 1.52l-1.52 1.52l-1.52-1.52zM452.72 278.4l1.52 1.52l-1.52 1.52l-1.52-1.52z" fill="none" stroke="#0a9bff" stroke-width="0.9"/>
<line x1="518.25" y1="326.16" x2="518.25" y2="339.61" stroke="#000" stroke-width="1.5"/>
<line x1="518.25" y1="372.67" x2="518.25" y2="389.48" stroke="#000" stroke-width="1.5"/>
<line x1="509.75" y1="326.16" x2="526.75" y2="326.16" stroke="#000" stroke-width="1.5"/>
<line x1="509.75" y1="389.48" x2="526.75" y2="389.48" stroke="#000" stroke-width="1.5"/>
<rect x="499.95" y="339.61" width="36.6" height="14.57" fill="url(#gu)"/>
<rect x="499.95" y="354.18" width="36.6" height="18.49" fill="url(#gl)"/>
<rect x="499.95" y="339.61" width="36.6" height="33.06" fill="none" stroke="#000" stroke-width="1.5"/>
<line x1="499.95" y1="354.18" x2="536.55" y2="354.18" stroke="#000" stroke-width="1.2"/>
<rect x="516.75" y="354.36" width="3" height="3" fill="#fff" stroke="#000" stroke-width="1.5"/>
<path d="M555.2 350.4h3v3h-3zM568 364.8h1.6v1.6h-1.6zM555.2 334.4h3v3h-3zM579.2 329.6h3v3h-3zM568 368h1.6v1.6h-1.6zM576 336h3v3h-3zM558.4 337.6h1.6v1.6h-1.6zM574.4 356.8h3v3h-3zM572.8 342.4h3v3h-3zM564.8 358.4h1.6v1.6h-1.6zM564.8 358.4h3v3h-3zM564.8 361.6h3v3h-3zM571.2 329.6h3v3h-3zM577.6 326.4h3v3h-3zM579.2 347.2h3v3h-3zM569.6 344h3v3h-3zM553.6 340.8h3v3h-3zM552 347.2h3v3h-3zM576 337.6h3v3h-3zM577.6 340.8h3v3h-3zM568 372.8h3v3h-3zM579.2 347.2h3v3h-3zM577.6 374.4h3v3h-3zM564.8 340.8h3v3h-3zM558.4 340.8h1.6v1.6h-1.6zM564.8 332.8h3v3h-3zM558.4 348.8h3v3h-3zM558.4 352h3v3h-3zM571.2 371.2h3v3h-3zM553.6 366.4h3v3h-3zM577.6 328h3v3h-3zM579.2 380.8h3v3h-3zM556.8 374.4h3v3h-3zM564.8 361.6h1.6v1.6h-1.6zM569.6 340.8h3v3h-3zM563.2 382.4h3v3h-3zM552 347.2h3v3h-3zM568 329.6h1.6v1.6h-1.6zM579.2 352h3v3h-3zM576 337.6h3v3h-3zM555.2 348.8h3v3h-3zM576 339.2h3v3h-3zM568 329.6h3v3h-3zM569.6 368h1.6v1.6h-1.6zM572.8 352h1.6v1.6h-1.6zM563.2 369.6h1.6v1.6h-1.6zM564.8 348.8h1.6v1.6h-1.6zM576 347.2h3v3h-3zM566.4 342.4h3v3h-3zM564.8 358.4h1.6v1.6h-1.6zM556.8 348.8h1.6v1.6h-1.6zM555.2 326.4h3v3h-3zM561.6 361.6h3v3h-3zM561.6 355.2h3v3h-3zM552 387.2h3v3h-3zM558.4 380.8h1.6v1.6h-1.6zM558.4 331.2h3v3h-3zM574.4 361.6h3v3h-3zM569.6 376h3v3h-3zM563.2 358.4h3v3h-3zM555.2 329.6h3v3h-3zM555.2 339.2h3v3h-3zM553.6 355.2h1.6v1.6h-1.6zM577.6 385.6h3v3h-3zM579.2 342.4h1.6v1.6h-1.6zM564.8 364.8h3v3h-3zM558.4 328h3v3h-3zM579.2 352h3v3h-3zM560 358.4h3v3h-3zM579.2 344h3v3h-3zM558.4 340.8h3v3h-3zM552 340.8h1.6v1.6h-1.6zM577.6 366.4h3v3h-3zM574.4 339.2h3v3h-3zM560 356.8h3v3h-3zM579.2 364.8h3v3h-3zM561.6 352h3v3h-3zM561.6 376h3v3h-3zM563.2 348.8h3v3h-3zM566.4 369.6h3v3h-3zM563.2 355.2h3v3h-3zM560 326.4h3v3h-3zM579.2 371.2h1.6v1.6h-1.6zM553.6 339.2h3v3h-3zM566.4 326.4h3v3h-3zM574.4 345.6h3v3h-3zM568 377.6h3v3h-3zM555.2 379.2h3v3h-3zM569.6 363.2h3v3h-3zM571.2 350.4h1.6v1.6h-1.6zM566.4 356.8h3v3h-3zM571.2 355.2h3v3h-3zM566.4 336h3v3h-3zM552 352h3v3h-3zM579.2 387.2h3v3h-3zM555.2 326.4h1.6v1.6h-1.6zM569.6 387.2h3v3h-3zM563.2 348.8h3v3h-3zM572.8 344h1.6v1.6h-1.6zM577.6 340.8h1.6v1.6h-1.6zM563.2 331.2h3v3h-3zM569.6 385.6h3v3h-3zM555.2 379.2h3v3h-3zM560 353.6h3v3h-3zM555.2 344h3v3h-3zM560 376h3v3h-3zM572.8 331.2h3v3h-3zM571.2 342.4h3v3h-3zM566.4 342.4h3v3h-3zM576 337.6h3v3h-3zM560 368h3v3h-3zM568 376h3v3h-3zM556.8 331.2h3v3h-3zM574.4 384h3v3h-3zM572.8 369.6h3v3h-3zM574.4 385.6h3v3h-3zM564.8 371.2h3v3h-3zM556.8 328h3v3h-3zM579.2 379.2h3v3h-3zM571.2 332.8h3v3h-3zM566.4 368h3v3h-3zM571.2 385.6h3v3h-3zM558.4 331.2h1.6v1.6h-1.6zM561.6 337.6h3v3h-3zM577.6 348.8h1.6v1.6h-1.6zM558.4 352h3v3h-3zM563.2 329.6h3v3h-3zM568 329.6h3v3h-3zM558.4 355.2h3v3h-3zM571.2 350.4h3v3h-3zM579.2 369.6h1.6v1.6h-1.6zM555.2 374.4h3v3h-3zM555.2 352h3v3h-3zM560 387.2h3v3h-3zM552 350.4h3v3h-3zM572.8 376h3v3h-3zM569.6 363.2h3v3h-3zM555.2 377.6h3v3h-3zM558.4 339.2h3v3h-3zM558.4 329.6h3v3h-3zM577.6 336h3v3h-3zM571.2 336h3v3h-3zM574.4 342.4h3v3h-3zM580.8 344h3v3h-3zM576 377.6h3v3h-3zM558.4 387.2h3v3h-3zM555.2 356.8h3v3h-3zM579.2 339.2h3v3h-3zM560 337.6h3v3h-3zM558.4 345.6h1.6v1.6h-1.6zM555.2 382.4h3v3h-3zM579.2 376h3v3h-3zM576 331.2h3v3h-3zM563.2 363.2h3v3h-3zM571.2 380.8h3v3h-3zM558.4 352h1.6v1.6h-1.6zM574.4 363.2h3v3h-3zM579.2 376h3v3h-3zM568 337.6h3v3h-3zM566.4 348.8h1.6v1.6h-1.6zM552 345.6h1.6v1.6h-1.6zM566.4 328h3v3h-3zM553.6 348.8h3v3h-3zM566.4 358.4h3v3h-3zM553.6 387.2h1.6v1.6h-1.6zM576 374.4h3v3h-3zM576 334.4h1.6v1.6h-1.6zM555.2 344h3v3h-3zM571.2 369.6h1.6v1.6h-1.6zM566.4 355.2h3v3h-3zM568 348.8h1.6v1.6h-1.6zM572.8 371.2h3v3h-3zM579.2 361.6h3v3h-3zM561.6 387.2h3v3h-3zM572.8 384h1.6v1.6h-1.6zM553.6 372.8h3v3h-3zM574.4 339.2h1.6v1.6h-1.6zM555.2 387.2h3v3h-3zM563.2 331.2h3v3h-3zM571.2 353.6h3v3h-3zM574.4 332.8h3v3h-3zM571.2 360h3v3h-3zM566.4 355.2h3v3h-3zM560 337.6h3v3h-3zM553.6 379.2h3v3h-3zM571.2 353.6h3v3h-3zM566.4 385.6h3v3h-3zM566.4 380.8h1.6v1.6h-1.6zM558.4 339.2h3v3h-3zM560 350.4h3v3h-3zM560 376h3v3h-3zM569.6 331.2h3v3h-3zM579.2 377.6h3v3h-3zM572.8 334.4h3v3h-3zM566.4 356.8h1.6v1.6h-1.6zM568 382.4h3v3h-3zM580.8 379.2h3v3h-3zM563.2 371.2h3v3h-3zM576 372.8h3v3h-3zM580.8 371.2h3v3h-3zM564.8 347.2h3v3h-3zM553.6 337.6h1.6v1.6h-1.6zM577.6 355.2h3v3h-3zM572.8 352h1.6v1.6h-1.6zM574.4 350.4h1.6v1.6h-1.6zM553.6 356.8h3v3h-3zM572.8 382.4h3v3h-3zM561.6 379.2h3v3h-3zM564.8 347.2h3v3h-3zM580.8 345.6h3v3h-3zM553.6 377.6h1.6v1.6h-1.6zM566.4 344h1.6v1.6h-1.6zM572.8 352h3v3h-3zM556.8 356.8h3v3h-3zM555.2 326.4h3v3h-3zM576 384h1.6v1.6h-1.6zM552 361.6h3v3h-3zM571.2 337.6h3v3h-3zM560 371.2h1.6v1.6h-1.6zM555.2 324.8h3v3h-3zM577.6 371.2h3v3h-3zM574.4 345.6h3v3h-3zM558.4 352h1.6v1.6h-1.6zM569.6 376h1.6v1.6h-1.6zM553.6 372.8h3v3h-3zM555.2 385.6h3v3h-3zM556.8 332.8h1.6v1.6h-1.6zM553.6 334.4h3v3h-3zM560 340.8h3v3h-3zM580.8 347.2h3v3h-3zM561.6 371.2h1.6v1.6h-1.6zM566.4 371.2h3v3h-3zM569.6 328h3v3h-3zM574.4 334.4h3v3h-3zM572.8 363.2h3v3h-3zM560 368h1.6v1.6h-1.6zM571.2 331.2h3v3h-3zM568 331.2h3v3h-3zM558.4 336h3v3h-3zM555.2 369.6h1.6v1.6h-1.6zM564.8 377.6h3v3h-3zM560 345.6h3v3h-3zM556.8 353.6h3v3h-3zM558.4 353.6h3v3h-3zM556.8 376h1.6v1.6h-1.6zM571.2 331.2h1.6v1.6h-1.6zM563.2 369.6h3v3h-3zM560 369.6h3v3h-3zM556.8 340.8h3v3h-3zM564.8 364.8h3v3h-3zM569.6 340.8h3v3h-3zM572.8 366.4h3v3h-3zM558.4 334.4h1.6v1.6h-1.6zM566.4 366.4h1.6v1.6h-1.6zM568 366.4h3v3h-3zM564.8 348.8h3v3h-3zM558.4 366.4h3v3h-3zM566.4 377.6h3v3h-3zM556.8 350.4h3v3h-3zM576 352h1.6v1.6h-1.6zM560 340.8h3v3h-3zM569.6 331.2h3v3h-3zM574.4 379.2h3v3h-3zM579.2 344h1.6v1.6h-1.6zM569.6 340.8h3v3h-3zM560 379.2h3v3h-3zM556.8 374.4h3v3h-3zM577.6 332.8h3v3h-3zM572.8 340.8h3v3h-3zM566.4 356.8h3v3h-3z" fill="#0a9bff"/>
<path d="M561.52 382.4l1.52 1.52l-1.52 1.52l-1.52-1.52zM571.12 387.2l1.52 1.52l-1.52 1.52l-1.52-1.52zM561.52 387.2l1.52 1.52l-1.52 1.52l-1.52-1.52zM567.92 384l1.52 1.52l-1.52 1.52l-1.52-1.52zM563.12 366.4l1.52 1.52l-1.52 1.52l-1.52-1.52zM580.72 340.8l1.52 1.52l-1.52 1.52l-1.52-1.52zM564.72 331.2l1.52 1.52l-1.52 1.52l-1.52-1.52zM561.52 356.8l1.52 1.52l-1.52 1.52l-1.52-1.52zM580.72 387.2l1.52 1.52l-1.52 1.52l-1.52-1.52zM572.72 385.6l1.52 1.52l-1.52 1.52l-1.52-1.52zM566.32 358.4l1.52 1.52l-1.52 1.52l-1.52-1.52zM558.32 336l1.52 1.52l-1.52 1.52l-1.52-1.52zM564.72 379.2l1.52 1.52l-1.52 1.52l-1.52-1.52zM556.72 372.8l1.52 1.52l-1.52 1.52l-1.52-1.52zM571.12 332.8l1.52 1.52l-1.52 1.52l-1.52-1.52zM579.12 356.8l1.52 1.52l-1.52 1.52l-1.52-1.52zM569.52 345.6l1.52 1.52l-1.52 1.52l-1.52-1.52zM567.92 377.6l1.52 1.52l-1.52 1.52l-1.52-1.52zM555.12 353.6l1.52 1.52l-1.52 1.52l-1.52-1.52zM571.12 353.6l1.52 1.52l-1.52 1.52l-1.52-1.52zM566.32 385.6l1.52 1.52l-1.52 1.52l-1.52-1.52zM567.92 372.8l1.52 1.52l-1.52 1.52l-1.52-1.52zM564.72 369.6l1.52 1.52l-1.52 1.52l-1.52-1.52zM571.12 384l1.52 1.52l-1.52 1.52l-1.52-1.52zM561.52 336l1.52 1.52l-1.52 1.52l-1.52-1.52zM556.72 379.2l1.52 1.52l-1.52 1.52l-1.52-1.52zM564.72 324.8l1.52 1.52l-1.52 1.52l-1.52-1.52zM574.32 345.6l1.52 1.52l-1.52 1.52l-1.52-1.52zM561.52 372.8l1.52 1.52l-1.52 1.52l-1.52-1.52zM564.72 376l1.52 1.52l-1.52 1.52l-1.52-1.52zM579.12 361.6l1.52 1.52l-1.52 1.52l-1.52-1.52zM575.92 326.4l1.52 1.52l-1.52 1.52l-1.52-1.52zM561.52 366.4l1.52 1.52l-1.52 1.52l-1.52-1.52zM569.52 326.4l1.52 1.52l-1.52 1.52l-1.52-1.52zM567.92 376l1.52 1.52l-1.52 1.52l-1.52-1.52zM575.92 342.4l1.52 1.52l-1.52 1.52l-1.52-1.52zM571.12 376l1.52 1.52l-1.52 1.52l-1.52-1.52zM556.72 371.2l1.52 1.52l-1.52 1.52l-1.52-1.52zM556.72 334.4l1.52 1.52l-1.52 1.52l-1.52-1.52zM580.72 361.6l1.52 1.52l-1.52 1.52l-1.52-1.52zM566.32 355.2l1.52 1.52l-1.52 1.52l-1.52-1.52zM563.12 345.6l1.52 1.52l-1.52 1.52l-1.52-1.52zM574.32 339.2l1.52 1.52l-1.52 1.52l-1.52-1.52zM574.32 339.2l1.52 1.52l-1.52 1.52l-1.52-1.52zM558.32 348.8l1.52 1.52l-1.52 1.52l-1.52-1.52zM566.32 352l1.52 1.52l-1.52 1.52l-1.52-1.52zM577.52 340.8l1.52 1.52l-1.52 1.52l-1.52-1.52zM566.32 377.6l1.52 1.52l-1.52 1.52l-1.52-1.52zM571.12 377.6l1.52 1.52l-1.52 1.52l-1.52-1.52zM558.32 340.8l1.52 1.52l-1.52 1.52l-1.52-1.52zM575.92 371.2l1.52 1.52l-1.52 1.52l-1.52-1.52zM577.52 347.2l1.52 1.52l-1.52 1.52l-1.52-1.52zM574.32 347.2l1.52 1.52l-1.52 1.52l-1.52-1.52zM575.92 328l1.52 1.52l-1.52 1.52l-1.52-1.52zM555.12 352l1.52 1.52l-1.52 1.52l-1.52-1.52zM564.72 334.4l1.52 1.52l-1.52 1.52l-1.52-1.52zM574.32 364.8l1.52 1.52l-1.52 1.52l-1.52-1.52zM556.72 326.4l1.52 1.52l-1.52 1.52l-1.52-1.52zM555.12 329.6l1.52 1.52l-1.52 1.52l-1.52-1.52zM572.72 347.2l1.52 1.52l-1.52 1.52l-1.52-1.52z" fill="none" stroke="#0a9bff" stroke-width="0.9"/>
<rect x="126.6" y="36.6" width="53.4" height="24.8" fill="url(#g1)" stroke="#000" stroke-width="1.5"/>
<line x1="154" y1="67.8" x2="154" y2="91.2" stroke="#333" stroke-width="1.2"/>
<line x1="146" y1="67.8" x2="162" y2="67.8" stroke="#333" stroke-width="1.2"/>
<line x1="146" y1="91.2" x2="162" y2="91.2" stroke="#333" stroke-width="1.2"/>
<line x1="138" y1="109.5" x2="170.5" y2="109.5" stroke="#111" stroke-width="1.2"/>
<rect x="152" y="136.6" width="4.2" height="4.2" fill="#fff" stroke="#000" stroke-width="1.1"/>
<rect x="153.2" y="167.2" width="2.2" height="2.2" fill="#2f9cff"/>
<text x="187" y="57" font-size="24.1" text-anchor="start" fill="#262626">25%~75%</text>
<text x="187" y="86.5" font-size="23.85" text-anchor="start" fill="#262626">Range within 1.5IQR</text>
<text x="187" y="116" font-size="24.1" text-anchor="start" fill="#262626">Median Line</text>
<text x="187" y="145.5" font-size="24.0" text-anchor="start" fill="#262626">Mean</text>
<text x="187" y="175" font-size="24.0" text-anchor="start" fill="#262626">Outliers</text>
</g>
<g id="chart-b">
<g stroke="#000" stroke-width="1.5" fill="none">
<rect x="714.5" y="26.25" width="486.25" height="393"/>
<path d="M707.5 399.4H714.5M1194.75 399.4H1200.75M707.5 360.16H714.5M1194.75 360.16H1200.75M707.5 320.92H714.5M1194.75 320.92H1200.75M707.5 281.68H714.5M1194.75 281.68H1200.75M707.5 242.44H714.5M1194.75 242.44H1200.75M707.5 203.2H714.5M1194.75 203.2H1200.75M707.5 163.96H714.5M1194.75 163.96H1200.75M707.5 124.72H714.5M1194.75 124.72H1200.75M707.5 85.48H714.5M1194.75 85.48H1200.75M707.5 46.24H714.5M1194.75 46.24H1200.75M710.5 419.02H714.5M710.5 379.78H714.5M1198.25 379.78H1200.75M710.5 340.54H714.5M1198.25 340.54H1200.75M710.5 301.3H714.5M1198.25 301.3H1200.75M710.5 262.06H714.5M1198.25 262.06H1200.75M710.5 222.82H714.5M1198.25 222.82H1200.75M710.5 183.58H714.5M1198.25 183.58H1200.75M710.5 144.34H714.5M1198.25 144.34H1200.75M710.5 105.1H714.5M1198.25 105.1H1200.75M710.5 65.86H714.5M1198.25 65.86H1200.75M710.5 26.62H714.5M774.5 419.25V426.25M774.5 26.25V33.25M896.5 419.25V426.25M896.5 26.25V33.25M1018.5 419.25V426.25M1018.5 26.25V33.25M1140.5 419.25V426.25M1140.5 26.25V33.25"/>
</g>
<text x="699.8" y="405.2" font-size="24.2" text-anchor="end" fill="#262626">0.0</text>
<text x="699.8" y="365.96" font-size="24.2" text-anchor="end" fill="#262626">0.2</text>
<text x="699.8" y="326.72" font-size="24.2" text-anchor="end" fill="#262626">0.4</text>
<text x="699.8" y="287.48" font-size="24.2" text-anchor="end" fill="#262626">0.6</text>
<text x="699.8" y="248.24" font-size="24.2" text-anchor="end" fill="#262626">0.8</text>
<text x="699.8" y="209" font-size="24.2" text-anchor="end" fill="#262626">1.0</text>
<text x="699.8" y="169.76" font-size="24.2" text-anchor="end" fill="#262626">1.2</text>
<text x="699.8" y="130.52" font-size="24.2" text-anchor="end" fill="#262626">1.4</text>
<text x="699.8" y="91.28" font-size="24.2" text-anchor="end" fill="#262626">1.6</text>
<text x="699.8" y="52.04" font-size="24.2" text-anchor="end" fill="#262626">1.8</text>
<text x="774" y="449.4" font-size="24.2" text-anchor="middle" fill="#262626">IP</text>
<text x="896" y="449.4" font-size="24.2" text-anchor="middle" fill="#262626">OP</text>
<text x="1018" y="449.4" font-size="24.2" text-anchor="middle" fill="#262626">AS</text>
<text x="1140" y="449.4" font-size="24.2" text-anchor="middle" fill="#262626">ER</text>
<line x1="750.6" y1="263.04" x2="750.6" y2="286.58" stroke="#000" stroke-width="1.5"/>
<line x1="750.6" y1="334.07" x2="750.6" y2="360.16" stroke="#000" stroke-width="1.5"/>
<line x1="742.1" y1="263.04" x2="759.1" y2="263.04" stroke="#000" stroke-width="1.5"/>
<line x1="742.1" y1="360.16" x2="759.1" y2="360.16" stroke="#000" stroke-width="1.5"/>
<rect x="731.7" y="286.58" width="36.6" height="25.9" fill="url(#gu)"/>
<rect x="731.7" y="312.48" width="36.6" height="21.58" fill="url(#gl)"/>
<rect x="731.7" y="286.58" width="36.6" height="47.48" fill="none" stroke="#000" stroke-width="1.5"/>
<line x1="731.7" y1="312.48" x2="768.3" y2="312.48" stroke="#000" stroke-width="1.2"/>
<rect x="749.1" y="309.61" width="3" height="3" fill="#fff" stroke="#000" stroke-width="1.5"/>
<path d="M800 262.4h3v3h-3zM788.8 339.2h3v3h-3zM808 358.4h3v3h-3zM796.8 265.6h3v3h-3zM795.2 273.6h3v3h-3zM788.8 294.4h3v3h-3zM804.8 345.6h3v3h-3zM804.8 355.2h1.6v1.6h-1.6zM787.2 318.4h3v3h-3zM795.2 300.8h3v3h-3zM784 358.4h3v3h-3zM798.4 310.4h1.6v1.6h-1.6zM798.4 283.2h1.6v1.6h-1.6zM792 296h3v3h-3zM804.8 267.2h3v3h-3zM808 355.2h3v3h-3zM808 297.6h3v3h-3zM804.8 268.8h3v3h-3zM790.4 342.4h3v3h-3zM784 302.4h3v3h-3zM785.6 312h3v3h-3zM808 342.4h3v3h-3zM806.4 302.4h3v3h-3zM804.8 313.6h3v3h-3zM784 328h3v3h-3zM800 324.8h3v3h-3zM787.2 348.8h3v3h-3zM798.4 324.8h3v3h-3zM788.8 308.8h3v3h-3zM798.4 297.6h3v3h-3zM804.8 331.2h1.6v1.6h-1.6zM785.6 262.4h1.6v1.6h-1.6zM790.4 278.4h1.6v1.6h-1.6zM793.6 291.2h3v3h-3zM796.8 348.8h3v3h-3zM800 353.6h3v3h-3zM792 332.8h1.6v1.6h-1.6zM800 336h3v3h-3zM798.4 324.8h3v3h-3zM784 300.8h3v3h-3zM806.4 284.8h1.6v1.6h-1.6zM793.6 305.6h3v3h-3zM796.8 270.4h1.6v1.6h-1.6zM801.6 348.8h1.6v1.6h-1.6zM803.2 326.4h1.6v1.6h-1.6zM793.6 284.8h3v3h-3zM792 358.4h3v3h-3zM798.4 299.2h3v3h-3zM803.2 291.2h3v3h-3zM803.2 272h3v3h-3zM801.6 294.4h3v3h-3zM788.8 276.8h3v3h-3zM809.6 288h3v3h-3zM790.4 304h3v3h-3zM809.6 265.6h1.6v1.6h-1.6zM784 264h3v3h-3zM782.4 329.6h3v3h-3zM788.8 313.6h3v3h-3zM784 352h3v3h-3zM804.8 268.8h1.6v1.6h-1.6zM806.4 280h3v3h-3zM806.4 321.6h3v3h-3zM790.4 288h1.6v1.6h-1.6zM785.6 347.2h3v3h-3zM790.4 328h3v3h-3zM803.2 265.6h1.6v1.6h-1.6zM809.6 276.8h3v3h-3zM803.2 300.8h3v3h-3zM788.8 268.8h3v3h-3zM801.6 296h3v3h-3zM801.6 339.2h3v3h-3zM793.6 339.2h3v3h-3zM801.6 320h3v3h-3zM808 352h3v3h-3zM804.8 358.4h1.6v1.6h-1.6zM785.6 347.2h3v3h-3zM806.4 278.4h3v3h-3zM795.2 273.6h3v3h-3zM788.8 264h3v3h-3zM808 352h3v3h-3zM795.2 273.6h1.6v1.6h-1.6zM801.6 336h3v3h-3zM796.8 304h3v3h-3zM804.8 318.4h1.6v1.6h-1.6zM793.6 358.4h3v3h-3zM795.2 310.4h1.6v1.6h-1.6zM808 320h1.6v1.6h-1.6zM804.8 297.6h1.6v1.6h-1.6zM801.6 268.8h3v3h-3zM801.6 342.4h3v3h-3zM796.8 283.2h1.6v1.6h-1.6zM792 283.2h1.6v1.6h-1.6zM787.2 297.6h3v3h-3zM803.2 324.8h3v3h-3zM809.6 304h3v3h-3zM793.6 323.2h3v3h-3zM795.2 334.4h3v3h-3zM782.4 283.2h1.6v1.6h-1.6zM800 305.6h3v3h-3zM787.2 270.4h1.6v1.6h-1.6zM788.8 292.8h3v3h-3zM798.4 283.2h3v3h-3zM788.8 300.8h1.6v1.6h-1.6zM790.4 313.6h3v3h-3zM784 312h3v3h-3zM793.6 292.8h1.6v1.6h-1.6zM809.6 265.6h1.6v1.6h-1.6zM809.6 318.4h3v3h-3zM803.2 355.2h3v3h-3zM801.6 276.8h1.6v1.6h-1.6zM784 299.2h3v3h-3zM804.8 270.4h1.6v1.6h-1.6zM785.6 276.8h1.6v1.6h-1.6zM800 302.4h3v3h-3zM788.8 315.2h3v3h-3zM784 302.4h3v3h-3zM801.6 345.6h3v3h-3zM804.8 324.8h3v3h-3zM801.6 344h1.6v1.6h-1.6zM808 326.4h3v3h-3zM801.6 278.4h3v3h-3zM800 288h1.6v1.6h-1.6zM803.2 356.8h3v3h-3zM795.2 355.2h1.6v1.6h-1.6zM793.6 289.6h3v3h-3zM796.8 262.4h1.6v1.6h-1.6zM785.6 265.6h3v3h-3zM803.2 289.6h3v3h-3zM785.6 299.2h3v3h-3zM811.2 329.6h3v3h-3zM809.6 275.2h3v3h-3zM790.4 323.2h1.6v1.6h-1.6zM788.8 262.4h3v3h-3zM806.4 281.6h3v3h-3zM804.8 321.6h3v3h-3zM790.4 352h3v3h-3zM806.4 300.8h1.6v1.6h-1.6zM792 332.8h3v3h-3zM811.2 304h3v3h-3zM796.8 355.2h1.6v1.6h-1.6zM785.6 347.2h1.6v1.6h-1.6zM788.8 308.8h3v3h-3zM803.2 273.6h3v3h-3zM801.6 291.2h1.6v1.6h-1.6zM811.2 267.2h3v3h-3zM801.6 316.8h3v3h-3zM788.8 304h3v3h-3zM792 276.8h3v3h-3zM785.6 296h3v3h-3zM788.8 267.2h3v3h-3zM806.4 294.4h1.6v1.6h-1.6zM803.2 307.2h3v3h-3zM798.4 321.6h1.6v1.6h-1.6zM790.4 323.2h1.6v1.6h-1.6zM808 356.8h3v3h-3zM804.8 331.2h3v3h-3zM785.6 324.8h3v3h-3zM798.4 355.2h1.6v1.6h-1.6zM809.6 310.4h1.6v1.6h-1.6zM795.2 284.8h1.6v1.6h-1.6zM803.2 326.4h3v3h-3zM793.6 262.4h3v3h-3zM808 352h3v3h-3zM785.6 318.4h3v3h-3zM795.2 297.6h3v3h-3zM790.4 328h3v3h-3zM788.8 294.4h1.6v1.6h-1.6zM803.2 278.4h1.6v1.6h-1.6zM806.4 270.4h3v3h-3zM788.8 345.6h3v3h-3zM784 340.8h3v3h-3zM801.6 280h3v3h-3zM788.8 294.4h3v3h-3zM792 278.4h3v3h-3zM798.4 299.2h1.6v1.6h-1.6zM803.2 307.2h3v3h-3zM798.4 334.4h3v3h-3zM792 296h3v3h-3zM806.4 300.8h1.6v1.6h-1.6zM795.2 347.2h1.6v1.6h-1.6zM803.2 267.2h3v3h-3zM804.8 307.2h3v3h-3zM804.8 337.6h3v3h-3zM809.6 294.4h3v3h-3zM804.8 296h3v3h-3zM790.4 292.8h1.6v1.6h-1.6zM809.6 275.2h3v3h-3zM811.2 323.2h3v3h-3zM804.8 308.8h3v3h-3zM790.4 308.8h3v3h-3zM803.2 281.6h3v3h-3zM804.8 320h3v3h-3zM785.6 352h3v3h-3zM806.4 350.4h3v3h-3zM793.6 308.8h3v3h-3zM784 307.2h3v3h-3zM798.4 273.6h3v3h-3zM801.6 318.4h3v3h-3zM803.2 334.4h3v3h-3zM784 320h3v3h-3zM798.4 344h1.6v1.6h-1.6zM801.6 356.8h1.6v1.6h-1.6zM796.8 339.2h1.6v1.6h-1.6zM788.8 284.8h3v3h-3zM796.8 276.8h3v3h-3zM790.4 350.4h3v3h-3zM787.2 292.8h3v3h-3zM792 280h3v3h-3zM798.4 347.2h1.6v1.6h-1.6zM801.6 318.4h3v3h-3zM800 276.8h3v3h-3zM801.6 339.2h3v3h-3zM798.4 312h3v3h-3zM808 324.8h3v3h-3zM809.6 302.4h3v3h-3zM796.8 264h1.6v1.6h-1.6zM803.2 268.8h3v3h-3zM795.2 278.4h1.6v1.6h-1.6zM796.8 340.8h3v3h-3zM793.6 312h1.6v1.6h-1.6zM784 339.2h1.6v1.6h-1.6zM787.2 260.8h1.6v1.6h-1.6zM784 278.4h3v3h-3zM785.6 329.6h3v3h-3zM785.6 300.8h3v3h-3zM796.8 268.8h3v3h-3zM809.6 275.2h3v3h-3zM811.2 337.6h3v3h-3zM804.8 324.8h3v3h-3zM811.2 321.6h1.6v1.6h-1.6zM792 270.4h3v3h-3zM798.4 331.2h3v3h-3zM801.6 273.6h3v3h-3zM806.4 268.8h3v3h-3zM806.4 344h3v3h-3zM808 315.2h1.6v1.6h-1.6zM793.6 324.8h3v3h-3zM788.8 272h1.6v1.6h-1.6zM800 273.6h3v3h-3zM798.4 273.6h3v3h-3zM795.2 356.8h3v3h-3zM808 297.6h3v3h-3zM796.8 297.6h3v3h-3zM792 308.8h3v3h-3zM795.2 336h1.6v1.6h-1.6zM788.8 288h3v3h-3zM808 313.6h1.6v1.6h-1.6zM809.6 356.8h3v3h-3zM785.6 339.2h3v3h-3zM785.6 326.4h3v3h-3zM784 358.4h3v3h-3zM798.4 270.4h3v3h-3zM790.4 352h1.6v1.6h-1.6zM793.6 320h3v3h-3zM806.4 273.6h3v3h-3zM811.2 312h3v3h-3zM793.6 275.2h1.6v1.6h-1.6zM798.4 316.8h3v3h-3zM793.6 305.6h3v3h-3zM788.8 318.4h3v3h-3zM811.2 273.6h3v3h-3zM809.6 275.2h3v3h-3zM782.4 326.4h3v3h-3zM803.2 336h3v3h-3zM785.6 272h3v3h-3zM796.8 265.6h3v3h-3zM782.4 283.2h3v3h-3zM803.2 356.8h3v3h-3zM809.6 300.8h3v3h-3zM798.4 347.2h3v3h-3zM790.4 318.4h3v3h-3zM803.2 283.2h3v3h-3zM809.6 332.8h3v3h-3zM804.8 312h3v3h-3zM801.6 315.2h3v3h-3zM811.2 272h3v3h-3zM811.2 268.8h3v3h-3zM785.6 334.4h3v3h-3zM798.4 275.2h3v3h-3z" fill="#0a9bff"/>
<path d="M788.72 353.6l1.52 1.52l-1.52 1.52l-1.52-1.52zM811.12 342.4l1.52 1.52l-1.52 1.52l-1.52-1.52zM793.52 278.4l1.52 1.52l-1.52 1.52l-1.52-1.52zM811.12 328l1.52 1.52l-1.52 1.52l-1.52-1.52zM791.92 334.4l1.52 1.52l-1.52 1.52l-1.52-1.52zM788.72 264l1.52 1.52l-1.52 1.52l-1.52-1.52zM787.12 312l1.52 1.52l-1.52 1.52l-1.52-1.52zM793.52 356.8l1.52 1.52l-1.52 1.52l-1.52-1.52zM785.52 272l1.52 1.52l-1.52 1.52l-1.52-1.52zM791.92 353.6l1.52 1.52l-1.52 1.52l-1.52-1.52zM790.32 299.2l1.52 1.52l-1.52 1.52l-1.52-1.52zM796.72 270.4l1.52 1.52l-1.52 1.52l-1.52-1.52zM807.92 297.6l1.52 1.52l-1.52 1.52l-1.52-1.52zM807.92 315.2l1.52 1.52l-1.52 1.52l-1.52-1.52zM788.72 331.2l1.52 1.52l-1.52 1.52l-1.52-1.52zM799.92 337.6l1.52 1.52l-1.52 1.52l-1.52-1.52zM811.12 355.2l1.52 1.52l-1.52 1.52l-1.52-1.52zM787.12 313.6l1.52 1.52l-1.52 1.52l-1.52-1.52zM801.52 326.4l1.52 1.52l-1.52 1.52l-1.52-1.52zM806.32 280l1.52 1.52l-1.52 1.52l-1.52-1.52zM795.12 308.8l1.52 1.52l-1.52 1.52l-1.52-1.52zM807.92 352l1.52 1.52l-1.52 1.52l-1.52-1.52zM788.72 329.6l1.52 1.52l-1.52 1.52l-1.52-1.52zM801.52 280l1.52 1.52l-1.52 1.52l-1.52-1.52zM801.52 270.4l1.52 1.52l-1.52 1.52l-1.52-1.52zM795.12 304l1.52 1.52l-1.52 1.52l-1.52-1.52zM788.72 291.2l1.52 1.52l-1.52 1.52l-1.52-1.52zM801.52 297.6l1.52 1.52l-1.52 1.52l-1.52-1.52zM793.52 328l1.52 1.52l-1.52 1.52l-1.52-1.52zM795.12 358.4l1.52 1.52l-1.52 1.52l-1.52-1.52zM809.52 337.6l1.52 1.52l-1.52 1.52l-1.52-1.52zM804.72 321.6l1.52 1.52l-1.52 1.52l-1.52-1.52zM809.52 316.8l1.52 1.52l-1.52 1.52l-1.52-1.52zM801.52 337.6l1.52 1.52l-1.52 1.52l-1.52-1.52zM785.52 336l1.52 1.52l-1.52 1.52l-1.52-1.52zM793.52 313.6l1.52 1.52l-1.52 1.52l-1.52-1.52zM803.12 270.4l1.52 1.52l-1.52 1.52l-1.52-1.52zM806.32 353.6l1.52 1.52l-1.52 1.52l-1.52-1.52zM812.72 339.2l1.52 1.52l-1.52 1.52l-1.52-1.52zM804.72 292.8l1.52 1.52l-1.52 1.52l-1.52-1.52zM803.12 286.4l1.52 1.52l-1.52 1.52l-1.52-1.52zM803.12 307.2l1.52 1.52l-1.52 1.52l-1.52-1.52zM790.32 324.8l1.52 1.52l-1.52 1.52l-1.52-1.52zM811.12 323.2l1.52 1.52l-1.52 1.52l-1.52-1.52zM790.32 291.2l1.52 1.52l-1.52 1.52l-1.52-1.52zM811.12 265.6l1.52 1.52l-1.52 1.52l-1.52-1.52zM799.92 308.8l1.52 1.52l-1.52 1.52l-1.52-1.52zM809.52 297.6l1.52 1.52l-1.52 1.52l-1.52-1.52zM799.92 336l1.52 1.52l-1.52 1.52l-1.52-1.52zM799.92 268.8l1.52 1.52l-1.52 1.52l-1.52-1.52zM796.72 291.2l1.52 1.52l-1.52 1.52l-1.52-1.52zM787.12 331.2l1.52 1.52l-1.52 1.52l-1.52-1.52zM806.32 291.2l1.52 1.52l-1.52 1.52l-1.52-1.52zM811.12 297.6l1.52 1.52l-1.52 1.52l-1.52-1.52zM811.12 275.2l1.52 1.52l-1.52 1.52l-1.52-1.52zM796.72 315.2l1.52 1.52l-1.52 1.52l-1.52-1.52zM785.52 318.4l1.52 1.52l-1.52 1.52l-1.52-1.52zM799.92 288l1.52 1.52l-1.52 1.52l-1.52-1.52zM812.72 318.4l1.52 1.52l-1.52 1.52l-1.52-1.52zM791.92 324.8l1.52 1.52l-1.52 1.52l-1.52-1.52zM793.52 262.4l1.52 1.52l-1.52 1.52l-1.52-1.52z" fill="none" stroke="#0a9bff" stroke-width="0.9"/>
<line x1="872" y1="62.92" x2="872" y2="148.26" stroke="#000" stroke-width="1.5"/>
<line x1="872" y1="324.84" x2="872" y2="391.55" stroke="#000" stroke-width="1.5"/>
<line x1="863.5" y1="62.92" x2="880.5" y2="62.92" stroke="#000" stroke-width="1.5"/>
<line x1="863.5" y1="391.55" x2="880.5" y2="391.55" stroke="#000" stroke-width="1.5"/>
<rect x="853.7" y="148.26" width="36.6" height="91.23" fill="url(#gu)"/>
<rect x="853.7" y="239.5" width="36.6" height="85.35" fill="url(#gl)"/>
<rect x="853.7" y="148.26" width="36.6" height="176.58" fill="none" stroke="#000" stroke-width="1.5"/>
<line x1="853.7" y1="239.5" x2="890.3" y2="239.5" stroke="#000" stroke-width="1.2"/>
<rect x="870.5" y="231.13" width="3" height="3" fill="#fff" stroke="#000" stroke-width="1.5"/>
<path d="M926.4 294.4h3v3h-3zM928 163.2h3v3h-3zM924.8 377.6h3v3h-3zM931.2 164.8h1.6v1.6h-1.6zM923.2 108.8h3v3h-3zM916.8 227.2h1.6v1.6h-1.6zM916.8 363.2h3v3h-3zM920 158.4h3v3h-3zM918.4 374.4h3v3h-3zM920 355.2h3v3h-3zM912 169.6h3v3h-3zM924.8 273.6h3v3h-3zM928 364.8h3v3h-3zM929.6 233.6h1.6v1.6h-1.6zM921.6 67.2h3v3h-3zM918.4 118.4h3v3h-3zM915.2 177.6h3v3h-3zM912 345.6h3v3h-3zM916.8 216h1.6v1.6h-1.6zM929.6 73.6h3v3h-3zM915.2 128h1.6v1.6h-1.6zM912 297.6h3v3h-3zM923.2 148.8h3v3h-3zM907.2 353.6h3v3h-3zM916.8 259.2h3v3h-3zM921.6 339.2h3v3h-3zM916.8 329.6h1.6v1.6h-1.6zM929.6 118.4h3v3h-3zM915.2 230.4h3v3h-3zM923.2 312h3v3h-3zM915.2 115.2h3v3h-3zM929.6 112h3v3h-3zM926.4 286.4h3v3h-3zM921.6 360h1.6v1.6h-1.6zM915.2 275.2h3v3h-3zM913.6 80h3v3h-3zM918.4 164.8h3v3h-3zM918.4 118.4h3v3h-3zM912 230.4h3v3h-3zM915.2 227.2h3v3h-3zM918.4 361.6h1.6v1.6h-1.6zM929.6 76.8h1.6v1.6h-1.6zM910.4 180.8h3v3h-3zM926.4 112h3v3h-3zM929.6 268.8h3v3h-3zM921.6 172.8h3v3h-3zM921.6 318.4h1.6v1.6h-1.6zM912 249.6h3v3h-3zM915.2 252.8h3v3h-3zM921.6 304h3v3h-3zM924.8 316.8h1.6v1.6h-1.6zM916.8 137.6h1.6v1.6h-1.6zM918.4 113.6h3v3h-3zM916.8 94.4h3v3h-3zM912 89.6h3v3h-3zM916.8 267.2h1.6v1.6h-1.6zM916.8 195.2h3v3h-3zM929.6 108.8h3v3h-3zM920 358.4h3v3h-3zM913.6 209.6h3v3h-3zM913.6 342.4h3v3h-3zM913.6 321.6h1.6v1.6h-1.6zM912 211.2h3v3h-3zM915.2 321.6h1.6v1.6h-1.6zM908.8 302.4h3v3h-3zM916.8 134.4h3v3h-3zM929.6 356.8h1.6v1.6h-1.6zM929.6 328h3v3h-3zM916.8 334.4h3v3h-3zM916.8 136h3v3h-3zM929.6 276.8h3v3h-3zM912 174.4h3v3h-3zM915.2 139.2h1.6v1.6h-1.6zM915.2 152h3v3h-3zM912 360h3v3h-3zM910.4 368h3v3h-3zM916.8 252.8h1.6v1.6h-1.6zM923.2 62.4h1.6v1.6h-1.6zM920 220.8h3v3h-3zM915.2 230.4h3v3h-3zM920 113.6h3v3h-3zM912 244.8h3v3h-3zM921.6 257.6h3v3h-3zM926.4 190.4h3v3h-3zM916.8 168h3v3h-3zM910.4 382.4h1.6v1.6h-1.6zM920 318.4h3v3h-3zM920 184h3v3h-3zM916.8 316.8h3v3h-3zM915.2 257.6h3v3h-3zM928 312h1.6v1.6h-1.6zM921.6 376h3v3h-3zM924.8 67.2h1.6v1.6h-1.6zM923.2 310.4h3v3h-3zM910.4 195.2h3v3h-3zM920 131.2h3v3h-3zM913.6 307.2h1.6v1.6h-1.6zM920 126.4h1.6v1.6h-1.6zM913.6 137.6h3v3h-3zM912 243.2h3v3h-3zM915.2 192h3v3h-3zM921.6 158.4h1.6v1.6h-1.6zM913.6 364.8h3v3h-3zM918.4 235.2h1.6v1.6h-1.6zM913.6 320h3v3h-3zM920 97.6h3v3h-3zM908.8 137.6h3v3h-3zM931.2 171.2h1.6v1.6h-1.6zM910.4 185.6h3v3h-3zM926.4 320h1.6v1.6h-1.6zM932.8 169.6h1.6v1.6h-1.6zM923.2 121.6h1.6v1.6h-1.6zM918.4 382.4h3v3h-3zM916.8 385.6h3v3h-3zM918.4 203.2h3v3h-3zM921.6 160h3v3h-3zM932.8 324.8h3v3h-3zM923.2 219.2h3v3h-3zM929.6 340.8h3v3h-3zM926.4 262.4h3v3h-3zM913.6 91.2h3v3h-3zM931.2 352h1.6v1.6h-1.6zM928 75.2h3v3h-3zM920 185.6h3v3h-3zM928 91.2h3v3h-3zM915.2 219.2h3v3h-3zM920 337.6h1.6v1.6h-1.6zM921.6 356.8h1.6v1.6h-1.6zM915.2 102.4h3v3h-3zM918.4 355.2h3v3h-3zM932.8 116.8h3v3h-3zM918.4 184h3v3h-3zM923.2 267.2h3v3h-3zM931.2 339.2h3v3h-3zM915.2 323.2h3v3h-3zM929.6 94.4h3v3h-3zM910.4 140.8h1.6v1.6h-1.6zM929.6 350.4h3v3h-3zM918.4 64h3v3h-3zM905.6 358.4h1.6v1.6h-1.6zM912 76.8h3v3h-3zM915.2 220.8h3v3h-3zM923.2 206.4h3v3h-3zM908.8 134.4h3v3h-3zM912 326.4h3v3h-3zM908.8 160h3v3h-3zM929.6 321.6h1.6v1.6h-1.6zM921.6 388.8h3v3h-3zM924.8 377.6h1.6v1.6h-1.6zM915.2 377.6h1.6v1.6h-1.6zM908.8 299.2h3v3h-3zM920 257.6h3v3h-3zM924.8 249.6h1.6v1.6h-1.6zM908.8 88h3v3h-3zM907.2 284.8h3v3h-3zM920 118.4h3v3h-3zM920 312h3v3h-3zM910.4 126.4h1.6v1.6h-1.6zM928 184h3v3h-3zM907.2 158.4h1.6v1.6h-1.6zM932.8 164.8h3v3h-3zM928 86.4h3v3h-3zM924.8 268.8h3v3h-3zM918.4 369.6h3v3h-3zM915.2 244.8h3v3h-3zM916.8 364.8h3v3h-3zM905.6 296h1.6v1.6h-1.6zM923.2 350.4h1.6v1.6h-1.6zM924.8 366.4h3v3h-3zM916.8 267.2h3v3h-3zM931.2 72h3v3h-3zM928 72h3v3h-3zM923.2 89.6h3v3h-3zM928 329.6h3v3h-3zM908.8 371.2h3v3h-3zM913.6 280h3v3h-3zM918.4 252.8h3v3h-3zM910.4 329.6h1.6v1.6h-1.6zM912 316.8h3v3h-3zM921.6 153.6h3v3h-3zM920 387.2h3v3h-3zM923.2 350.4h3v3h-3zM926.4 347.2h1.6v1.6h-1.6zM915.2 257.6h3v3h-3zM912 102.4h3v3h-3zM918.4 212.8h3v3h-3zM918.4 225.6h3v3h-3zM910.4 352h3v3h-3zM916.8 190.4h3v3h-3zM920 355.2h1.6v1.6h-1.6zM921.6 220.8h1.6v1.6h-1.6zM913.6 120h3v3h-3zM910.4 163.2h1.6v1.6h-1.6zM926.4 201.6h1.6v1.6h-1.6zM913.6 96h3v3h-3zM920 140.8h1.6v1.6h-1.6zM929.6 345.6h3v3h-3zM932.8 110.4h3v3h-3zM929.6 262.4h3v3h-3zM916.8 219.2h1.6v1.6h-1.6zM931.2 60.8h3v3h-3zM913.6 352h3v3h-3zM915.2 289.6h3v3h-3zM915.2 126.4h1.6v1.6h-1.6zM908.8 124.8h3v3h-3zM920 254.4h3v3h-3zM926.4 289.6h3v3h-3zM931.2 366.4h1.6v1.6h-1.6zM913.6 212.8h1.6v1.6h-1.6zM923.2 64h3v3h-3zM929.6 283.2h1.6v1.6h-1.6zM913.6 65.6h3v3h-3zM931.2 72h3v3h-3zM913.6 356.8h3v3h-3zM921.6 120h3v3h-3zM910.4 379.2h3v3h-3zM929.6 324.8h1.6v1.6h-1.6zM907.2 350.4h1.6v1.6h-1.6zM929.6 361.6h3v3h-3zM918.4 203.2h3v3h-3zM916.8 299.2h1.6v1.6h-1.6zM920 380.8h3v3h-3zM913.6 67.2h1.6v1.6h-1.6zM928 280h3v3h-3zM907.2 107.2h3v3h-3zM910.4 88h3v3h-3zM915.2 276.8h3v3h-3zM921.6 212.8h3v3h-3zM915.2 379.2h3v3h-3zM912 387.2h3v3h-3zM931.2 112h3v3h-3zM913.6 329.6h3v3h-3zM931.2 78.4h3v3h-3zM916.8 380.8h1.6v1.6h-1.6zM920 131.2h3v3h-3zM907.2 115.2h3v3h-3zM929.6 110.4h3v3h-3zM929.6 136h3v3h-3zM915.2 222.4h3v3h-3zM923.2 315.2h3v3h-3zM929.6 273.6h1.6v1.6h-1.6zM924.8 275.2h1.6v1.6h-1.6zM908.8 124.8h3v3h-3zM931.2 342.4h3v3h-3zM931.2 280h3v3h-3zM910.4 140.8h1.6v1.6h-1.6zM913.6 337.6h3v3h-3zM924.8 124.8h3v3h-3zM931.2 329.6h3v3h-3zM916.8 331.2h3v3h-3zM920 246.4h3v3h-3z" fill="#0a9bff"/>
<path d="M924.72 376l1.52 1.52l-1.52 1.52l-1.52-1.52zM908.72 76.8l1.52 1.52l-1.52 1.52l-1.52-1.52zM910.32 283.2l1.52 1.52l-1.52 1.52l-1.52-1.52zM919.92 177.6l1.52 1.52l-1.52 1.52l-1.52-1.52zM927.92 273.6l1.52 1.52l-1.52 1.52l-1.52-1.52zM924.72 313.6l1.52 1.52l-1.52 1.52l-1.52-1.52zM927.92 337.6l1.52 1.52l-1.52 1.52l-1.52-1.52zM918.32 380.8l1.52 1.52l-1.52 1.52l-1.52-1.52zM921.52 83.2l1.52 1.52l-1.52 1.52l-1.52-1.52zM931.12 371.2l1.52 1.52l-1.52 1.52l-1.52-1.52zM923.12 328l1.52 1.52l-1.52 1.52l-1.52-1.52zM910.32 376l1.52 1.52l-1.52 1.52l-1.52-1.52zM910.32 163.2l1.52 1.52l-1.52 1.52l-1.52-1.52zM921.52 331.2l1.52 1.52l-1.52 1.52l-1.52-1.52zM924.72 161.6l1.52 1.52l-1.52 1.52l-1.52-1.52zM915.12 244.8l1.52 1.52l-1.52 1.52l-1.52-1.52zM919.92 147.2l1.52 1.52l-1.52 1.52l-1.52-1.52zM911.92 251.2l1.52 1.52l-1.52 1.52l-1.52-1.52zM908.72 78.4l1.52 1.52l-1.52 1.52l-1.52-1.52zM916.72 75.2l1.52 1.52l-1.52 1.52l-1.52-1.52zM915.12 70.4l1.52 1.52l-1.52 1.52l-1.52-1.52zM915.12 252.8l1.52 1.52l-1.52 1.52l-1.52-1.52zM919.92 185.6l1.52 1.52l-1.52 1.52l-1.52-1.52zM918.32 94.4l1.52 1.52l-1.52 1.52l-1.52-1.52zM927.92 158.4l1.52 1.52l-1.52 1.52l-1.52-1.52zM929.52 224l1.52 1.52l-1.52 1.52l-1.52-1.52zM921.52 240l1.52 1.52l-1.52 1.52l-1.52-1.52zM926.32 91.2l1.52 1.52l-1.52 1.52l-1.52-1.52zM919.92 104l1.52 1.52l-1.52 1.52l-1.52-1.52zM932.72 356.8l1.52 1.52l-1.52 1.52l-1.52-1.52zM919.92 252.8l1.52 1.52l-1.52 1.52l-1.52-1.52zM927.92 267.2l1.52 1.52l-1.52 1.52l-1.52-1.52zM921.52 208l1.52 1.52l-1.52 1.52l-1.52-1.52zM911.92 344l1.52 1.52l-1.52 1.52l-1.52-1.52zM932.72 320l1.52 1.52l-1.52 1.52l-1.52-1.52zM910.32 78.4l1.52 1.52l-1.52 1.52l-1.52-1.52zM929.52 356.8l1.52 1.52l-1.52 1.52l-1.52-1.52zM926.32 180.8l1.52 1.52l-1.52 1.52l-1.52-1.52zM923.12 350.4l1.52 1.52l-1.52 1.52l-1.52-1.52zM923.12 272l1.52 1.52l-1.52 1.52l-1.52-1.52zM929.52 108.8l1.52 1.52l-1.52 1.52l-1.52-1.52zM926.32 206.4l1.52 1.52l-1.52 1.52l-1.52-1.52zM915.12 240l1.52 1.52l-1.52 1.52l-1.52-1.52zM919.92 169.6l1.52 1.52l-1.52 1.52l-1.52-1.52zM918.32 124.8l1.52 1.52l-1.52 1.52l-1.52-1.52zM908.72 300.8l1.52 1.52l-1.52 1.52l-1.52-1.52zM924.72 65.6l1.52 1.52l-1.52 1.52l-1.52-1.52zM927.92 244.8l1.52 1.52l-1.52 1.52l-1.52-1.52zM926.32 300.8l1.52 1.52l-1.52 1.52l-1.52-1.52z" fill="none" stroke="#0a9bff" stroke-width="0.9"/>
<line x1="994" y1="211.05" x2="994" y2="237.53" stroke="#000" stroke-width="1.5"/>
<line x1="994" y1="296.39" x2="994" y2="332.69" stroke="#000" stroke-width="1.5"/>
<line x1="985.5" y1="211.05" x2="1002.5" y2="211.05" stroke="#000" stroke-width="1.5"/>
<line x1="985.5" y1="332.69" x2="1002.5" y2="332.69" stroke="#000" stroke-width="1.5"/>
<rect x="975.7" y="237.53" width="36.6" height="32.37" fill="url(#gu)"/>
<rect x="975.7" y="269.91" width="36.6" height="26.49" fill="url(#gl)"/>
<rect x="975.7" y="237.53" width="36.6" height="58.86" fill="none" stroke="#000" stroke-width="1.5"/>
<line x1="975.7" y1="269.91" x2="1012.3" y2="269.91" stroke="#000" stroke-width="1.2"/>
<rect x="992.5" y="269.39" width="3" height="3" fill="#fff" stroke="#000" stroke-width="1.5"/>
<path d="M1028.8 236.8h3v3h-3zM1041.6 296h1.6v1.6h-1.6zM1049.6 252.8h3v3h-3zM1054.4 289.6h3v3h-3zM1043.2 302.4h1.6v1.6h-1.6zM1041.6 248h1.6v1.6h-1.6zM1044.8 281.6h3v3h-3zM1049.6 232h3v3h-3zM1028.8 224h3v3h-3zM1035.2 280h3v3h-3zM1049.6 244.8h3v3h-3zM1048 241.6h1.6v1.6h-1.6zM1052.8 300.8h3v3h-3zM1040 233.6h3v3h-3zM1041.6 235.2h3v3h-3zM1033.6 275.2h3v3h-3zM1035.2 288h3v3h-3zM1036.8 222.4h3v3h-3zM1051.2 310.4h3v3h-3zM1033.6 278.4h3v3h-3zM1048 267.2h3v3h-3zM1033.6 233.6h3v3h-3zM1046.4 260.8h3v3h-3zM1043.2 292.8h3v3h-3zM1051.2 220.8h3v3h-3zM1043.2 304h3v3h-3zM1033.6 267.2h3v3h-3zM1040 270.4h3v3h-3zM1051.2 278.4h3v3h-3zM1052.8 313.6h1.6v1.6h-1.6zM1035.2 214.4h3v3h-3zM1030.4 227.2h1.6v1.6h-1.6zM1036.8 257.6h3v3h-3zM1028.8 320h3v3h-3zM1040 227.2h1.6v1.6h-1.6zM1049.6 278.4h3v3h-3zM1028.8 281.6h3v3h-3zM1040 313.6h3v3h-3zM1051.2 284.8h3v3h-3zM1048 214.4h1.6v1.6h-1.6zM1038.4 275.2h3v3h-3zM1051.2 248h3v3h-3zM1036.8 259.2h1.6v1.6h-1.6zM1049.6 264h3v3h-3zM1044.8 328h3v3h-3zM1054.4 283.2h1.6v1.6h-1.6zM1051.2 262.4h3v3h-3zM1028.8 256h3v3h-3zM1046.4 328h1.6v1.6h-1.6zM1044.8 243.2h3v3h-3zM1041.6 281.6h3v3h-3zM1030.4 217.6h1.6v1.6h-1.6zM1049.6 248h3v3h-3zM1041.6 241.6h3v3h-3zM1052.8 305.6h3v3h-3zM1051.2 305.6h3v3h-3zM1028.8 222.4h3v3h-3zM1052.8 305.6h1.6v1.6h-1.6zM1032 288h1.6v1.6h-1.6zM1049.6 299.2h3v3h-3zM1046.4 235.2h3v3h-3zM1049.6 328h1.6v1.6h-1.6zM1049.6 278.4h1.6v1.6h-1.6zM1036.8 227.2h3v3h-3zM1046.4 219.2h3v3h-3zM1048 310.4h1.6v1.6h-1.6zM1035.2 307.2h3v3h-3zM1036.8 225.6h3v3h-3zM1033.6 302.4h3v3h-3zM1032 316.8h3v3h-3zM1032 304h3v3h-3zM1040 286.4h3v3h-3zM1046.4 321.6h3v3h-3zM1030.4 304h3v3h-3zM1038.4 267.2h1.6v1.6h-1.6zM1049.6 324.8h1.6v1.6h-1.6zM1048 294.4h1.6v1.6h-1.6zM1054.4 286.4h1.6v1.6h-1.6zM1035.2 321.6h3v3h-3zM1044.8 257.6h3v3h-3zM1028.8 251.2h3v3h-3zM1041.6 246.4h3v3h-3zM1044.8 243.2h3v3h-3zM1051.2 329.6h3v3h-3zM1046.4 220.8h3v3h-3zM1046.4 329.6h1.6v1.6h-1.6zM1041.6 299.2h3v3h-3zM1038.4 313.6h3v3h-3zM1030.4 305.6h3v3h-3zM1051.2 224h3v3h-3zM1036.8 222.4h3v3h-3zM1046.4 300.8h3v3h-3zM1051.2 313.6h1.6v1.6h-1.6zM1049.6 243.2h1.6v1.6h-1.6zM1049.6 297.6h3v3h-3zM1040 288h1.6v1.6h-1.6zM1040 320h3v3h-3zM1033.6 316.8h3v3h-3zM1049.6 281.6h3v3h-3zM1044.8 273.6h3v3h-3zM1033.6 305.6h3v3h-3zM1033.6 232h3v3h-3zM1032 286.4h3v3h-3zM1052.8 230.4h3v3h-3zM1046.4 275.2h3v3h-3zM1028.8 254.4h3v3h-3zM1046.4 249.6h3v3h-3zM1048 315.2h3v3h-3zM1028.8 220.8h3v3h-3zM1051.2 227.2h3v3h-3zM1049.6 270.4h3v3h-3zM1027.2 214.4h3v3h-3zM1025.6 284.8h3v3h-3zM1030.4 248h1.6v1.6h-1.6zM1041.6 312h3v3h-3zM1046.4 305.6h3v3h-3zM1036.8 328h1.6v1.6h-1.6zM1051.2 236.8h3v3h-3zM1043.2 315.2h1.6v1.6h-1.6zM1030.4 320h3v3h-3zM1032 236.8h3v3h-3zM1033.6 278.4h3v3h-3zM1052.8 220.8h3v3h-3zM1046.4 307.2h3v3h-3zM1051.2 304h1.6v1.6h-1.6zM1028.8 228.8h3v3h-3zM1033.6 275.2h3v3h-3zM1043.2 265.6h3v3h-3zM1049.6 297.6h1.6v1.6h-1.6zM1041.6 308.8h3v3h-3zM1051.2 292.8h3v3h-3zM1051.2 278.4h1.6v1.6h-1.6zM1028.8 233.6h1.6v1.6h-1.6zM1033.6 305.6h3v3h-3zM1036.8 233.6h3v3h-3zM1036.8 294.4h3v3h-3zM1036.8 324.8h3v3h-3zM1051.2 248h3v3h-3zM1043.2 297.6h3v3h-3zM1044.8 283.2h3v3h-3zM1030.4 232h1.6v1.6h-1.6zM1028.8 220.8h3v3h-3zM1052.8 297.6h3v3h-3zM1038.4 308.8h1.6v1.6h-1.6zM1032 302.4h3v3h-3zM1032 248h1.6v1.6h-1.6zM1028.8 227.2h1.6v1.6h-1.6zM1046.4 300.8h3v3h-3zM1030.4 243.2h1.6v1.6h-1.6zM1048 281.6h3v3h-3zM1051.2 268.8h1.6v1.6h-1.6zM1052.8 219.2h1.6v1.6h-1.6zM1049.6 252.8h1.6v1.6h-1.6zM1046.4 272h3v3h-3zM1043.2 280h3v3h-3zM1035.2 254.4h3v3h-3zM1041.6 262.4h3v3h-3zM1041.6 288h3v3h-3zM1044.8 315.2h3v3h-3zM1046.4 259.2h3v3h-3zM1027.2 217.6h3v3h-3zM1041.6 252.8h3v3h-3zM1035.2 238.4h3v3h-3zM1028.8 268.8h3v3h-3zM1044.8 264h3v3h-3zM1051.2 214.4h3v3h-3zM1052.8 318.4h1.6v1.6h-1.6zM1041.6 259.2h3v3h-3zM1032 232h3v3h-3zM1035.2 220.8h3v3h-3zM1027.2 267.2h3v3h-3zM1043.2 244.8h3v3h-3zM1056 216h3v3h-3zM1033.6 289.6h3v3h-3zM1040 241.6h3v3h-3zM1054.4 304h3v3h-3zM1051.2 313.6h3v3h-3zM1038.4 315.2h3v3h-3zM1032 304h3v3h-3zM1030.4 230.4h3v3h-3zM1052.8 246.4h1.6v1.6h-1.6zM1035.2 302.4h3v3h-3zM1033.6 216h1.6v1.6h-1.6zM1048 214.4h3v3h-3zM1044.8 315.2h3v3h-3zM1051.2 280h3v3h-3zM1056 252.8h1.6v1.6h-1.6zM1040 228.8h3v3h-3zM1052.8 243.2h3v3h-3zM1048 276.8h3v3h-3zM1032 304h3v3h-3zM1051.2 329.6h3v3h-3zM1048 286.4h3v3h-3zM1049.6 270.4h3v3h-3zM1035.2 243.2h3v3h-3zM1044.8 262.4h1.6v1.6h-1.6zM1030.4 216h3v3h-3zM1033.6 280h3v3h-3zM1032 316.8h1.6v1.6h-1.6zM1041.6 235.2h3v3h-3zM1036.8 252.8h3v3h-3zM1032 228.8h1.6v1.6h-1.6zM1051.2 251.2h1.6v1.6h-1.6zM1035.2 284.8h3v3h-3zM1041.6 240h3v3h-3zM1028.8 232h3v3h-3zM1049.6 228.8h3v3h-3zM1028.8 288h1.6v1.6h-1.6zM1035.2 302.4h1.6v1.6h-1.6zM1038.4 296h3v3h-3zM1030.4 275.2h3v3h-3zM1032 321.6h1.6v1.6h-1.6zM1040 284.8h3v3h-3zM1036.8 270.4h3v3h-3zM1028.8 284.8h3v3h-3zM1044.8 257.6h3v3h-3zM1054.4 270.4h3v3h-3zM1044.8 241.6h3v3h-3zM1041.6 238.4h3v3h-3zM1036.8 312h3v3h-3zM1032 265.6h1.6v1.6h-1.6zM1046.4 232h1.6v1.6h-1.6zM1032 222.4h3v3h-3zM1027.2 212.8h1.6v1.6h-1.6zM1049.6 307.2h3v3h-3zM1049.6 304h1.6v1.6h-1.6zM1035.2 305.6h3v3h-3zM1041.6 230.4h3v3h-3zM1052.8 267.2h3v3h-3zM1051.2 280h3v3h-3zM1030.4 284.8h3v3h-3zM1051.2 244.8h1.6v1.6h-1.6zM1040 238.4h1.6v1.6h-1.6zM1052.8 222.4h3v3h-3zM1046.4 265.6h3v3h-3zM1041.6 275.2h3v3h-3zM1054.4 244.8h3v3h-3zM1033.6 248h3v3h-3zM1028.8 217.6h3v3h-3zM1032 300.8h3v3h-3zM1035.2 316.8h3v3h-3zM1040 318.4h1.6v1.6h-1.6zM1027.2 304h1.6v1.6h-1.6zM1033.6 320h3v3h-3zM1041.6 225.6h1.6v1.6h-1.6zM1041.6 328h3v3h-3zM1054.4 244.8h1.6v1.6h-1.6zM1038.4 225.6h1.6v1.6h-1.6zM1046.4 328h3v3h-3zM1048 320h3v3h-3zM1038.4 297.6h3v3h-3zM1043.2 284.8h3v3h-3zM1036.8 268.8h3v3h-3zM1030.4 217.6h3v3h-3zM1049.6 289.6h3v3h-3zM1043.2 273.6h1.6v1.6h-1.6zM1027.2 220.8h3v3h-3zM1040 265.6h3v3h-3zM1041.6 235.2h3v3h-3zM1041.6 278.4h3v3h-3zM1038.4 302.4h3v3h-3zM1046.4 312h1.6v1.6h-1.6zM1035.2 257.6h3v3h-3zM1049.6 316.8h3v3h-3zM1040 302.4h3v3h-3zM1043.2 259.2h3v3h-3zM1044.8 286.4h3v3h-3zM1038.4 246.4h1.6v1.6h-1.6zM1033.6 227.2h3v3h-3zM1044.8 246.4h3v3h-3zM1035.2 249.6h1.6v1.6h-1.6zM1033.6 222.4h3v3h-3zM1049.6 248h1.6v1.6h-1.6zM1038.4 252.8h1.6v1.6h-1.6zM1030.4 280h3v3h-3zM1030.4 321.6h3v3h-3zM1038.4 323.2h3v3h-3zM1046.4 270.4h3v3h-3z" fill="#0a9bff"/>
<path d="M1043.12 310.4l1.52 1.52l-1.52 1.52l-1.52-1.52zM1031.92 281.6l1.52 1.52l-1.52 1.52l-1.52-1.52zM1028.72 216l1.52 1.52l-1.52 1.52l-1.52-1.52zM1038.32 318.4l1.52 1.52l-1.52 1.52l-1.52-1.52zM1047.92 292.8l1.52 1.52l-1.52 1.52l-1.52-1.52zM1043.12 304l1.52 1.52l-1.52 1.52l-1.52-1.52zM1033.52 256l1.52 1.52l-1.52 1.52l-1.52-1.52zM1038.32 248l1.52 1.52l-1.52 1.52l-1.52-1.52zM1041.52 251.2l1.52 1.52l-1.52 1.52l-1.52-1.52zM1035.12 220.8l1.52 1.52l-1.52 1.52l-1.52-1.52zM1033.52 321.6l1.52 1.52l-1.52 1.52l-1.52-1.52zM1051.12 252.8l1.52 1.52l-1.52 1.52l-1.52-1.52zM1055.92 248l1.52 1.52l-1.52 1.52l-1.52-1.52zM1051.12 225.6l1.52 1.52l-1.52 1.52l-1.52-1.52zM1038.32 273.6l1.52 1.52l-1.52 1.52l-1.52-1.52zM1054.32 291.2l1.52 1.52l-1.52 1.52l-1.52-1.52zM1044.72 272l1.52 1.52l-1.52 1.52l-1.52-1.52zM1039.92 272l1.52 1.52l-1.52 1.52l-1.52-1.52zM1044.72 227.2l1.52 1.52l-1.52 1.52l-1.52-1.52zM1043.12 284.8l1.52 1.52l-1.52 1.52l-1.52-1.52zM1044.72 273.6l1.52 1.52l-1.52 1.52l-1.52-1.52zM1052.72 310.4l1.52 1.52l-1.52 1.52l-1.52-1.52zM1044.72 240l1.52 1.52l-1.52 1.52l-1.52-1.52zM1035.12 256l1.52 1.52l-1.52 1.52l-1.52-1.52zM1046.32 286.4l1.52 1.52l-1.52 1.52l-1.52-1.52zM1046.32 321.6l1.52 1.52l-1.52 1.52l-1.52-1.52zM1033.52 316.8l1.52 1.52l-1.52 1.52l-1.52-1.52zM1055.92 209.6l1.52 1.52l-1.52 1.52l-1.52-1.52zM1046.32 326.4l1.52 1.52l-1.52 1.52l-1.52-1.52zM1038.32 241.6l1.52 1.52l-1.52 1.52l-1.52-1.52zM1055.92 265.6l1.52 1.52l-1.52 1.52l-1.52-1.52zM1054.32 251.2l1.52 1.52l-1.52 1.52l-1.52-1.52zM1039.92 305.6l1.52 1.52l-1.52 1.52l-1.52-1.52zM1039.92 284.8l1.52 1.52l-1.52 1.52l-1.52-1.52zM1055.92 286.4l1.52 1.52l-1.52 1.52l-1.52-1.52zM1036.72 243.2l1.52 1.52l-1.52 1.52l-1.52-1.52zM1046.32 241.6l1.52 1.52l-1.52 1.52l-1.52-1.52zM1049.52 331.2l1.52 1.52l-1.52 1.52l-1.52-1.52zM1051.12 328l1.52 1.52l-1.52 1.52l-1.52-1.52zM1036.72 238.4l1.52 1.52l-1.52 1.52l-1.52-1.52zM1030.32 227.2l1.52 1.52l-1.52 1.52l-1.52-1.52zM1028.72 278.4l1.52 1.52l-1.52 1.52l-1.52-1.52zM1028.72 265.6l1.52 1.52l-1.52 1.52l-1.52-1.52zM1052.72 228.8l1.52 1.52l-1.52 1.52l-1.52-1.52zM1052.72 212.8l1.52 1.52l-1.52 1.52l-1.52-1.52zM1041.52 288l1.52 1.52l-1.52 1.52l-1.52-1.52zM1031.92 275.2l1.52 1.52l-1.52 1.52l-1.52-1.52zM1039.92 318.4l1.52 1.52l-1.52 1.52l-1.52-1.52zM1054.32 299.2l1.52 1.52l-1.52 1.52l-1.52-1.52zM1055.92 222.4l1.52 1.52l-1.52 1.52l-1.52-1.52zM1043.12 243.2l1.52 1.52l-1.52 1.52l-1.52-1.52zM1047.92 265.6l1.52 1.52l-1.52 1.52l-1.52-1.52zM1047.92 257.6l1.52 1.52l-1.52 1.52l-1.52-1.52zM1055.92 251.2l1.52 1.52l-1.52 1.52l-1.52-1.52zM1049.52 232l1.52 1.52l-1.52 1.52l-1.52-1.52zM1028.72 212.8l1.52 1.52l-1.52 1.52l-1.52-1.52zM1036.72 232l1.52 1.52l-1.52 1.52l-1.52-1.52zM1054.32 320l1.52 1.52l-1.52 1.52l-1.52-1.52zM1055.92 270.4l1.52 1.52l-1.52 1.52l-1.52-1.52zM1033.52 304l1.52 1.52l-1.52 1.52l-1.52-1.52zM1044.72 272l1.52 1.52l-1.52 1.52l-1.52-1.52zM1038.32 240l1.52 1.52l-1.52 1.52l-1.52-1.52z" fill="none" stroke="#0a9bff" stroke-width="0.9"/>
<line x1="1115.4" y1="374.88" x2="1115.4" y2="379.78" stroke="#000" stroke-width="1.5"/>
<line x1="1115.4" y1="391.55" x2="1115.4" y2="399.4" stroke="#000" stroke-width="1.5"/>
<line x1="1106.9" y1="374.88" x2="1123.9" y2="374.88" stroke="#000" stroke-width="1.5"/>
<line x1="1106.9" y1="399.4" x2="1123.9" y2="399.4" stroke="#000" stroke-width="1.5"/>
<rect x="1097.1" y="379.78" width="36.6" height="6.87" fill="url(#gu)"/>
<rect x="1097.1" y="386.65" width="36.6" height="4.9" fill="url(#gl)"/>
<rect x="1097.1" y="379.78" width="36.6" height="11.77" fill="none" stroke="#000" stroke-width="1.5"/>
<line x1="1097.1" y1="386.65" x2="1133.7" y2="386.65" stroke="#000" stroke-width="1.2"/>
<rect x="1113.9" y="385.15" width="3" height="3" fill="#fff" stroke="#000" stroke-width="1.5"/>
<path d="M1172.8 376h3v3h-3zM1163.2 380.8h3v3h-3zM1166.4 374.4h1.6v1.6h-1.6zM1152 376h3v3h-3zM1177.6 384h3v3h-3zM1156.8 392h1.6v1.6h-1.6zM1166.4 379.2h3v3h-3zM1164.8 379.2h3v3h-3zM1160 393.6h3v3h-3zM1161.6 384h1.6v1.6h-1.6zM1164.8 390.4h3v3h-3zM1155.2 382.4h3v3h-3zM1174.4 380.8h1.6v1.6h-1.6zM1156.8 388.8h3v3h-3zM1171.2 379.2h3v3h-3zM1148.8 390.4h3v3h-3zM1171.2 374.4h3v3h-3zM1161.6 395.2h3v3h-3zM1153.6 392h3v3h-3zM1172.8 385.6h3v3h-3zM1168 390.4h3v3h-3zM1155.2 393.6h3v3h-3zM1155.2 379.2h3v3h-3zM1177.6 390.4h3v3h-3zM1160 387.2h1.6v1.6h-1.6zM1150.4 388.8h3v3h-3zM1155.2 392h3v3h-3zM1169.6 380.8h3v3h-3zM1176 380.8h3v3h-3zM1168 395.2h3v3h-3zM1160 395.2h3v3h-3zM1164.8 382.4h3v3h-3zM1172.8 380.8h3v3h-3zM1168 382.4h1.6v1.6h-1.6zM1168 393.6h1.6v1.6h-1.6zM1152 377.6h3v3h-3zM1163.2 393.6h3v3h-3zM1177.6 385.6h3v3h-3zM1174.4 395.2h3v3h-3zM1150.4 376h1.6v1.6h-1.6zM1158.4 379.2h3v3h-3zM1163.2 385.6h1.6v1.6h-1.6zM1168 388.8h3v3h-3zM1156.8 392h1.6v1.6h-1.6zM1164.8 387.2h3v3h-3zM1152 392h3v3h-3zM1172.8 387.2h3v3h-3zM1160 379.2h3v3h-3zM1169.6 390.4h3v3h-3zM1152 379.2h1.6v1.6h-1.6zM1156.8 377.6h3v3h-3zM1172.8 379.2h1.6v1.6h-1.6zM1158.4 392h3v3h-3zM1166.4 395.2h3v3h-3zM1164.8 380.8h3v3h-3zM1152 382.4h3v3h-3zM1152 396.8h1.6v1.6h-1.6zM1156.8 388.8h1.6v1.6h-1.6zM1153.6 387.2h3v3h-3zM1169.6 385.6h1.6v1.6h-1.6zM1161.6 387.2h3v3h-3zM1177.6 376h1.6v1.6h-1.6zM1148.8 377.6h1.6v1.6h-1.6zM1169.6 387.2h3v3h-3zM1176 393.6h3v3h-3zM1176 379.2h3v3h-3zM1155.2 379.2h3v3h-3zM1148.8 393.6h1.6v1.6h-1.6zM1174.4 380.8h3v3h-3zM1177.6 377.6h3v3h-3zM1150.4 384h3v3h-3zM1160 374.4h1.6v1.6h-1.6zM1153.6 393.6h3v3h-3zM1158.4 376h3v3h-3zM1153.6 393.6h3v3h-3zM1150.4 376h3v3h-3zM1161.6 393.6h3v3h-3zM1166.4 376h3v3h-3zM1152 377.6h1.6v1.6h-1.6zM1152 395.2h3v3h-3zM1161.6 395.2h3v3h-3zM1156.8 393.6h1.6v1.6h-1.6zM1179.2 390.4h1.6v1.6h-1.6zM1172.8 388.8h3v3h-3zM1172.8 387.2h3v3h-3zM1172.8 387.2h3v3h-3zM1166.4 377.6h3v3h-3zM1158.4 372.8h3v3h-3zM1148.8 376h3v3h-3zM1174.4 382.4h1.6v1.6h-1.6zM1169.6 382.4h3v3h-3zM1161.6 385.6h3v3h-3zM1168 379.2h3v3h-3zM1164.8 377.6h3v3h-3zM1158.4 388.8h3v3h-3zM1166.4 376h3v3h-3zM1163.2 388.8h3v3h-3zM1150.4 384h3v3h-3zM1174.4 374.4h3v3h-3zM1176 377.6h3v3h-3zM1156.8 390.4h3v3h-3zM1153.6 387.2h3v3h-3zM1168 379.2h3v3h-3zM1152 380.8h3v3h-3zM1153.6 390.4h1.6v1.6h-1.6zM1176 388.8h3v3h-3zM1164.8 380.8h3v3h-3zM1176 376h3v3h-3zM1152 393.6h3v3h-3zM1156.8 395.2h3v3h-3zM1177.6 395.2h3v3h-3zM1152 392h3v3h-3zM1160 380.8h3v3h-3zM1163.2 393.6h1.6v1.6h-1.6zM1172.8 376h3v3h-3zM1174.4 376h3v3h-3zM1148.8 382.4h3v3h-3zM1172.8 374.4h1.6v1.6h-1.6zM1171.2 384h3v3h-3zM1164.8 374.4h1.6v1.6h-1.6zM1152 388.8h3v3h-3zM1169.6 385.6h1.6v1.6h-1.6zM1169.6 393.6h3v3h-3zM1156.8 393.6h3v3h-3zM1153.6 377.6h3v3h-3zM1164.8 388.8h3v3h-3zM1150.4 395.2h3v3h-3zM1158.4 387.2h3v3h-3zM1155.2 393.6h3v3h-3zM1148.8 376h3v3h-3zM1169.6 390.4h3v3h-3zM1161.6 379.2h3v3h-3zM1155.2 379.2h3v3h-3zM1152 377.6h3v3h-3zM1174.4 390.4h3v3h-3zM1150.4 393.6h3v3h-3zM1158.4 374.4h3v3h-3zM1160 390.4h3v3h-3zM1164.8 392h3v3h-3zM1156.8 384h3v3h-3zM1164.8 382.4h1.6v1.6h-1.6zM1161.6 390.4h3v3h-3zM1155.2 396.8h3v3h-3zM1158.4 382.4h3v3h-3zM1164.8 384h3v3h-3zM1168 382.4h3v3h-3zM1172.8 396.8h1.6v1.6h-1.6zM1158.4 396.8h3v3h-3zM1155.2 395.2h3v3h-3zM1153.6 396.8h1.6v1.6h-1.6zM1156.8 374.4h3v3h-3zM1148.8 384h1.6v1.6h-1.6zM1155.2 379.2h3v3h-3zM1148.8 393.6h3v3h-3zM1148.8 382.4h3v3h-3zM1166.4 387.2h1.6v1.6h-1.6zM1169.6 382.4h1.6v1.6h-1.6zM1150.4 385.6h1.6v1.6h-1.6zM1148.8 377.6h3v3h-3zM1153.6 384h3v3h-3zM1160 384h3v3h-3zM1150.4 390.4h1.6v1.6h-1.6zM1152 390.4h3v3h-3zM1161.6 385.6h3v3h-3zM1169.6 387.2h3v3h-3zM1172.8 390.4h3v3h-3zM1166.4 380.8h3v3h-3zM1166.4 377.6h3v3h-3zM1163.2 376h3v3h-3zM1174.4 376h3v3h-3zM1168 374.4h3v3h-3zM1174.4 390.4h1.6v1.6h-1.6zM1156.8 376h3v3h-3zM1166.4 395.2h3v3h-3zM1161.6 387.2h1.6v1.6h-1.6zM1164.8 377.6h3v3h-3zM1177.6 393.6h3v3h-3zM1166.4 385.6h1.6v1.6h-1.6zM1166.4 379.2h3v3h-3zM1148.8 376h3v3h-3zM1174.4 385.6h3v3h-3zM1163.2 388.8h3v3h-3zM1168 376h3v3h-3zM1153.6 388.8h3v3h-3zM1176 385.6h3v3h-3zM1152 395.2h1.6v1.6h-1.6zM1164.8 395.2h3v3h-3zM1156.8 395.2h3v3h-3zM1161.6 390.4h3v3h-3zM1156.8 376h3v3h-3zM1156.8 384h3v3h-3zM1166.4 374.4h3v3h-3zM1155.2 384h3v3h-3zM1163.2 374.4h3v3h-3zM1152 387.2h3v3h-3zM1176 393.6h1.6v1.6h-1.6zM1153.6 379.2h3v3h-3zM1152 382.4h3v3h-3zM1148.8 382.4h3v3h-3zM1176 387.2h3v3h-3zM1160 388.8h3v3h-3zM1168 388.8h1.6v1.6h-1.6zM1176 387.2h3v3h-3zM1150.4 382.4h1.6v1.6h-1.6zM1177.6 393.6h3v3h-3zM1163.2 385.6h3v3h-3zM1168 396.8h3v3h-3zM1164.8 379.2h3v3h-3zM1155.2 385.6h3v3h-3zM1172.8 396.8h3v3h-3zM1148.8 380.8h3v3h-3zM1172.8 382.4h1.6v1.6h-1.6zM1168 374.4h3v3h-3zM1160 385.6h3v3h-3zM1169.6 393.6h1.6v1.6h-1.6zM1147.2 377.6h3v3h-3zM1164.8 376h3v3h-3zM1172.8 395.2h1.6v1.6h-1.6zM1156.8 380.8h3v3h-3zM1166.4 382.4h3v3h-3zM1169.6 395.2h3v3h-3zM1155.2 385.6h3v3h-3z" fill="#0a9bff"/>
<path d="M1163.12 390.4l1.52 1.52l-1.52 1.52l-1.52-1.52zM1166.32 396.8l1.52 1.52l-1.52 1.52l-1.52-1.52zM1159.92 390.4l1.52 1.52l-1.52 1.52l-1.52-1.52zM1159.92 393.6l1.52 1.52l-1.52 1.52l-1.52-1.52zM1172.72 393.6l1.52 1.52l-1.52 1.52l-1.52-1.52zM1164.72 392l1.52 1.52l-1.52 1.52l-1.52-1.52zM1169.52 390.4l1.52 1.52l-1.52 1.52l-1.52-1.52zM1151.92 374.4l1.52 1.52l-1.52 1.52l-1.52-1.52zM1151.92 387.2l1.52 1.52l-1.52 1.52l-1.52-1.52zM1180.72 388.8l1.52 1.52l-1.52 1.52l-1.52-1.52zM1155.12 379.2l1.52 1.52l-1.52 1.52l-1.52-1.52zM1158.32 395.2l1.52 1.52l-1.52 1.52l-1.52-1.52zM1177.52 376l1.52 1.52l-1.52 1.52l-1.52-1.52zM1151.92 379.2l1.52 1.52l-1.52 1.52l-1.52-1.52zM1163.12 377.6l1.52 1.52l-1.52 1.52l-1.52-1.52zM1172.72 377.6l1.52 1.52l-1.52 1.52l-1.52-1.52zM1161.52 377.6l1.52 1.52l-1.52 1.52l-1.52-1.52zM1174.32 390.4l1.52 1.52l-1.52 1.52l-1.52-1.52zM1161.52 387.2l1.52 1.52l-1.52 1.52l-1.52-1.52zM1156.72 388.8l1.52 1.52l-1.52 1.52l-1.52-1.52zM1150.32 392l1.52 1.52l-1.52 1.52l-1.52-1.52zM1167.92 376l1.52 1.52l-1.52 1.52l-1.52-1.52zM1166.32 396.8l1.52 1.52l-1.52 1.52l-1.52-1.52zM1175.92 376l1.52 1.52l-1.52 1.52l-1.52-1.52zM1155.12 387.2l1.52 1.52l-1.52 1.52l-1.52-1.52zM1159.92 390.4l1.52 1.52l-1.52 1.52l-1.52-1.52zM1179.12 388.8l1.52 1.52l-1.52 1.52l-1.52-1.52zM1158.32 395.2l1.52 1.52l-1.52 1.52l-1.52-1.52zM1167.92 392l1.52 1.52l-1.52 1.52l-1.52-1.52zM1171.12 379.2l1.52 1.52l-1.52 1.52l-1.52-1.52zM1175.92 393.6l1.52 1.52l-1.52 1.52l-1.52-1.52zM1155.12 392l1.52 1.52l-1.52 1.52l-1.52-1.52zM1155.12 384l1.52 1.52l-1.52 1.52l-1.52-1.52zM1159.92 388.8l1.52 1.52l-1.52 1.52l-1.52-1.52zM1155.12 390.4l1.52 1.52l-1.52 1.52l-1.52-1.52zM1158.32 388.8l1.52 1.52l-1.52 1.52l-1.52-1.52zM1167.92 396.8l1.52 1.52l-1.52 1.52l-1.52-1.52zM1174.32 374.4l1.52 1.52l-1.52 1.52l-1.52-1.52zM1159.92 376l1.52 1.52l-1.52 1.52l-1.52-1.52zM1164.72 390.4l1.52 1.52l-1.52 1.52l-1.52-1.52zM1164.72 384l1.52 1.52l-1.52 1.52l-1.52-1.52zM1163.12 393.6l1.52 1.52l-1.52 1.52l-1.52-1.52zM1174.32 380.8l1.52 1.52l-1.52 1.52l-1.52-1.52zM1171.12 395.2l1.52 1.52l-1.52 1.52l-1.52-1.52zM1177.52 390.4l1.52 1.52l-1.52 1.52l-1.52-1.52zM1175.92 374.4l1.52 1.52l-1.52 1.52l-1.52-1.52zM1163.12 379.2l1.52 1.52l-1.52 1.52l-1.52-1.52zM1164.72 395.2l1.52 1.52l-1.52 1.52l-1.52-1.52zM1161.52 392l1.52 1.52l-1.52 1.52l-1.52-1.52zM1159.92 377.6l1.52 1.52l-1.52 1.52l-1.52-1.52zM1159.92 393.6l1.52 1.52l-1.52 1.52l-1.52-1.52zM1164.72 392l1.52 1.52l-1.52 1.52l-1.52-1.52zM1161.52 388.8l1.52 1.52l-1.52 1.52l-1.52-1.52zM1163.12 384l1.52 1.52l-1.52 1.52l-1.52-1.52zM1171.12 393.6l1.52 1.52l-1.52 1.52l-1.52-1.52zM1159.92 379.2l1.52 1.52l-1.52 1.52l-1.52-1.52zM1172.72 372.8l1.52 1.52l-1.52 1.52l-1.52-1.52zM1177.52 380.8l1.52 1.52l-1.52 1.52l-1.52-1.52zM1156.72 395.2l1.52 1.52l-1.52 1.52l-1.52-1.52zM1175.92 385.6l1.52 1.52l-1.52 1.52l-1.52-1.52zM1174.32 396.8l1.52 1.52l-1.52 1.52l-1.52-1.52zM1166.32 376l1.52 1.52l-1.52 1.52l-1.52-1.52zM1179.12 387.2l1.52 1.52l-1.52 1.52l-1.52-1.52zM1166.32 374.4l1.52 1.52l-1.52 1.52l-1.52-1.52zM1161.52 380.8l1.52 1.52l-1.52 1.52l-1.52-1.52zM1172.72 374.4l1.52 1.52l-1.52 1.52l-1.52-1.52zM1161.52 392l1.52 1.52l-1.52 1.52l-1.52-1.52zM1156.72 395.2l1.52 1.52l-1.52 1.52l-1.52-1.52zM1171.12 374.4l1.52 1.52l-1.52 1.52l-1.52-1.52zM1155.12 374.4l1.52 1.52l-1.52 1.52l-1.52-1.52zM1164.72 392l1.52 1.52l-1.52 1.52l-1.52-1.52zM1153.52 374.4l1.52 1.52l-1.52 1.52l-1.52-1.52zM1163.12 384l1.52 1.52l-1.52 1.52l-1.52-1.52zM1166.32 380.8l1.52 1.52l-1.52 1.52l-1.52-1.52zM1166.32 393.6l1.52 1.52l-1.52 1.52l-1.52-1.52zM1174.32 387.2l1.52 1.52l-1.52 1.52l-1.52-1.52zM1166.32 387.2l1.52 1.52l-1.52 1.52l-1.52-1.52zM1155.12 388.8l1.52 1.52l-1.52 1.52l-1.52-1.52z" fill="none" stroke="#0a9bff" stroke-width="0.9"/>
<rect x="927.4" y="39.7" width="54.6" height="26.2" fill="url(#g1)" stroke="#000" stroke-width="1.5"/>
<line x1="954.8" y1="71.5" x2="954.8" y2="94.3" stroke="#333" stroke-width="1.2"/>
<line x1="946.8" y1="71.5" x2="962.8" y2="71.5" stroke="#333" stroke-width="1.2"/>
<line x1="946.8" y1="94.3" x2="962.8" y2="94.3" stroke="#333" stroke-width="1.2"/>
<line x1="938.8" y1="112.6" x2="971.3" y2="112.6" stroke="#111" stroke-width="1.2"/>
<rect x="952.8" y="139.7" width="4.2" height="4.2" fill="#fff" stroke="#000" stroke-width="1.1"/>
<rect x="954" y="170.3" width="2.2" height="2.2" fill="#2f9cff"/>
<text x="988" y="60.9" font-size="24.1" text-anchor="start" fill="#262626">25%~75%</text>
<text x="988" y="90.4" font-size="23.85" text-anchor="start" fill="#262626">Range within 1.5IQR</text>
<text x="988" y="119.9" font-size="24.1" text-anchor="start" fill="#262626">Median Line</text>
<text x="988" y="149.4" font-size="24.0" text-anchor="start" fill="#262626">Mean</text>
<text x="988" y="178.9" font-size="24.0" text-anchor="start" fill="#262626">Outliers</text>
</g>
<g id="chart-c">
<rect x="172.5" y="1012.37" width="61.4" height="113.13" fill="#fbc898" stroke="#000" stroke-width="1.5"/>
<line x1="202.5" y1="962.25" x2="202.5" y2="1062.49" stroke="#000" stroke-width="1.3"/>
<line x1="198.8" y1="962.25" x2="206.2" y2="962.25" stroke="#000" stroke-width="1.3"/>
<line x1="198.8" y1="1062.49" x2="206.2" y2="1062.49" stroke="#000" stroke-width="1.3"/>
<rect x="293.7" y="940.77" width="61.3" height="184.73" fill="#9fd79f" stroke="#000" stroke-width="1.5"/>
<line x1="324.5" y1="902.11" x2="324.5" y2="977.29" stroke="#000" stroke-width="1.3"/>
<line x1="320.8" y1="902.11" x2="328.2" y2="902.11" stroke="#000" stroke-width="1.3"/>
<line x1="320.8" y1="977.29" x2="328.2" y2="977.29" stroke="#000" stroke-width="1.3"/>
<rect x="415.6" y="900.68" width="61.3" height="224.82" fill="#c0b1d6" stroke="#000" stroke-width="1.5"/>
<line x1="446.5" y1="776.09" x2="446.5" y2="1025.98" stroke="#000" stroke-width="1.3"/>
<line x1="442.8" y1="776.09" x2="450.2" y2="776.09" stroke="#000" stroke-width="1.3"/>
<line x1="442.8" y1="1025.98" x2="450.2" y2="1025.98" stroke="#000" stroke-width="1.3"/>
<rect x="538.5" y="1080.39" width="60.1" height="45.11" fill="#ffff99" stroke="#000" stroke-width="1.5"/>
<line x1="568.5" y1="1057.48" x2="568.5" y2="1103.3" stroke="#000" stroke-width="1.3"/>
<line x1="564.8" y1="1057.48" x2="572.2" y2="1057.48" stroke="#000" stroke-width="1.3"/>
<line x1="564.8" y1="1103.3" x2="572.2" y2="1103.3" stroke="#000" stroke-width="1.3"/>
<g stroke="#000" stroke-width="1.5" fill="none">
<rect x="142.5" y="732.9" width="485.75" height="392.6"/>
<path d="M135.5 1125.5H142.5M622.25 1125.5H628.25M135.5 1053.9H142.5M622.25 1053.9H628.25M135.5 982.3H142.5M622.25 982.3H628.25M135.5 910.7H142.5M622.25 910.7H628.25M135.5 839.1H142.5M622.25 839.1H628.25M135.5 767.5H142.5M622.25 767.5H628.25M138.5 1089.7H142.5M625.75 1089.7H628.25M138.5 1018.1H142.5M625.75 1018.1H628.25M138.5 946.5H142.5M625.75 946.5H628.25M138.5 874.9H142.5M625.75 874.9H628.25M138.5 803.3H142.5M625.75 803.3H628.25M138.5 731.7H142.5M202.5 1125.5V1132.5M202.5 732.9V739.9M324.5 1125.5V1132.5M324.5 732.9V739.9M446.5 1125.5V1132.5M446.5 732.9V739.9M568.5 1125.5V1132.5M568.5 732.9V739.9M262.8 1125.5V1129.5M262.8 732.9V736.9M384.8 1125.5V1129.5M384.8 732.9V736.9M506.8 1125.5V1129.5M506.8 732.9V736.9"/>
</g>
<text x="127.8" y="1131.3" font-size="24.2" text-anchor="end" fill="#262626">0.0</text>
<text x="127.8" y="1059.7" font-size="24.2" text-anchor="end" fill="#262626">0.5</text>
<text x="127.8" y="988.1" font-size="24.2" text-anchor="end" fill="#262626">1.0</text>
<text x="127.8" y="916.5" font-size="24.2" text-anchor="end" fill="#262626">1.5</text>
<text x="127.8" y="844.9" font-size="24.2" text-anchor="end" fill="#262626">2.0</text>
<text x="127.8" y="773.3" font-size="24.2" text-anchor="end" fill="#262626">2.5</text>
<text x="202" y="1155.5" font-size="24.2" text-anchor="middle" fill="#262626">Y</text>
<text x="324" y="1155.5" font-size="24.2" text-anchor="middle" fill="#262626">EL</text>
<text x="446.5" y="1155.5" font-size="24.2" text-anchor="middle" fill="#262626" letter-spacing="0.9">ELS</text>
<text x="568" y="1155.5" font-size="24.2" text-anchor="middle" fill="#262626">FS</text>
<text transform="translate(80 926.9) rotate(-90)" font-size="24.4" text-anchor="middle" fill="#262626">Average value</text>
</g>
<g id="chart-d">
<rect x="783.5" y="1007.78" width="61.4" height="117.72" fill="#fbc898" stroke="#000" stroke-width="1.5"/>
<line x1="813.5" y1="971.16" x2="813.5" y2="1045.71" stroke="#000" stroke-width="1.3"/>
<line x1="809.8" y1="971.16" x2="817.2" y2="971.16" stroke="#000" stroke-width="1.3"/>
<line x1="809.8" y1="1045.71" x2="817.2" y2="1045.71" stroke="#000" stroke-width="1.3"/>
<rect x="904.7" y="903.14" width="61.3" height="222.36" fill="#9fd79f" stroke="#000" stroke-width="1.5"/>
<line x1="935.5" y1="772.34" x2="935.5" y2="1033.94" stroke="#000" stroke-width="1.3"/>
<line x1="931.8" y1="772.34" x2="939.2" y2="772.34" stroke="#000" stroke-width="1.3"/>
<line x1="931.8" y1="1033.94" x2="939.2" y2="1033.94" stroke="#000" stroke-width="1.3"/>
<rect x="1026.6" y="952.84" width="61.3" height="172.66" fill="#c0b1d6" stroke="#000" stroke-width="1.5"/>
<line x1="1057.5" y1="905.76" x2="1057.5" y2="999.93" stroke="#000" stroke-width="1.3"/>
<line x1="1053.8" y1="905.76" x2="1061.2" y2="905.76" stroke="#000" stroke-width="1.3"/>
<line x1="1053.8" y1="999.93" x2="1061.2" y2="999.93" stroke="#000" stroke-width="1.3"/>
<rect x="1149.5" y="1108.5" width="60.1" height="17" fill="#ffff99" stroke="#000" stroke-width="1.5"/>
<line x1="1179.5" y1="1099.34" x2="1179.5" y2="1117.65" stroke="#000" stroke-width="1.3"/>
<line x1="1175.8" y1="1099.34" x2="1183.2" y2="1099.34" stroke="#000" stroke-width="1.3"/>
<line x1="1175.8" y1="1117.65" x2="1183.2" y2="1117.65" stroke="#000" stroke-width="1.3"/>
<g stroke="#000" stroke-width="1.5" fill="none">
<rect x="753.5" y="732.9" width="486" height="392.6"/>
<path d="M746.5 1125.5H753.5M1233.5 1125.5H1239.5M746.5 1073.18H753.5M1233.5 1073.18H1239.5M746.5 1020.86H753.5M1233.5 1020.86H1239.5M746.5 968.54H753.5M1233.5 968.54H1239.5M746.5 916.22H753.5M1233.5 916.22H1239.5M746.5 863.9H753.5M1233.5 863.9H1239.5M746.5 811.58H753.5M1233.5 811.58H1239.5M746.5 759.26H753.5M1233.5 759.26H1239.5M749.5 1099.34H753.5M1237 1099.34H1239.5M749.5 1047.02H753.5M1237 1047.02H1239.5M749.5 994.7H753.5M1237 994.7H1239.5M749.5 942.38H753.5M1237 942.38H1239.5M749.5 890.06H753.5M1237 890.06H1239.5M749.5 837.74H753.5M1237 837.74H1239.5M749.5 785.42H753.5M1237 785.42H1239.5M749.5 733.1H753.5M813.5 1125.5V1132.5M813.5 732.9V739.9M935.5 1125.5V1132.5M935.5 732.9V739.9M1057.5 1125.5V1132.5M1057.5 732.9V739.9M1179.5 1125.5V1132.5M1179.5 732.9V739.9M873.8 1125.5V1129.5M873.8 732.9V736.9M995.8 1125.5V1129.5M995.8 732.9V736.9M1117.8 1125.5V1129.5M1117.8 732.9V736.9"/>
</g>
<text x="738.8" y="1131.3" font-size="24.2" text-anchor="end" fill="#262626">0.0</text>
<text x="738.8" y="1078.98" font-size="24.2" text-anchor="end" fill="#262626">0.2</text>
<text x="738.8" y="1026.66" font-size="24.2" text-anchor="end" fill="#262626">0.4</text>
<text x="738.8" y="974.34" font-size="24.2" text-anchor="end" fill="#262626">0.6</text>
<text x="738.8" y="922.02" font-size="24.2" text-anchor="end" fill="#262626">0.8</text>
<text x="738.8" y="869.7" font-size="24.2" text-anchor="end" fill="#262626">1.0</text>
<text x="738.8" y="817.38" font-size="24.2" text-anchor="end" fill="#262626">1.2</text>
<text x="738.8" y="765.06" font-size="24.2" text-anchor="end" fill="#262626">1.4</text>
<text x="813" y="1155.5" font-size="24.2" text-anchor="middle" fill="#262626">IP</text>
<text x="935" y="1155.5" font-size="24.2" text-anchor="middle" fill="#262626">OP</text>
<text x="1057" y="1155.5" font-size="24.2" text-anchor="middle" fill="#262626">AS</text>
<text x="1179" y="1155.5" font-size="24.2" text-anchor="middle" fill="#262626">ER</text>
<text transform="translate(700 926.9) rotate(-90)" font-size="24.4" text-anchor="middle" fill="#262626">Average value</text>
</g>
<g font-size="35.5" text-anchor="middle" fill="#000" style="font-kerning:none">
<text x="337.6" y="502.2">(a) Agricultural green development</text>
<text x="337.6" y="544.8">performance, agricultural economic</text>
<text x="337.6" y="587.4">development level, agricultural economic</text>
<text x="337.6" y="630">development square item, financial support</text>
<text x="337.6" y="672.6">agriculture policy data distribution</text>
</g>
<g font-size="35.5" text-anchor="middle" fill="#000" style="font-kerning:none">
<text x="996" y="521">(b) Data distribution of industrialization</text>
<text x="996" y="563.6">process, degree of opening to the outside</text>
<text x="996" y="606.2">world, agricultural structure adjustment,</text>
<text x="996" y="648.8">and environmental control capacity</text>
</g>
<g font-size="35.5" text-anchor="middle" fill="#000" style="font-kerning:none">
<text x="336" y="1204.7">(c) Agricultural green development</text>
<text x="336" y="1247.3">performance, agricultural economic</text>
<text x="336" y="1289.9">development level, agricultural economic</text>
<text x="336" y="1332.5">development square item, average value of</text>
<text x="336" y="1375.1">fiscal support agriculture policy data</text>
</g>
<g font-size="35.5" text-anchor="middle" fill="#000" style="font-kerning:none">
<text x="994.6" y="1224">(d) Data average of industrialization</text>
<text x="994.6" y="1266.6">process, degree of opening to the outside</text>
<text x="994.6" y="1309.2">world, agricultural structure adjustment,</text>
<text x="994.6" y="1351.8">and environmental control capacity</text>
</g>
</svg></body></html>
